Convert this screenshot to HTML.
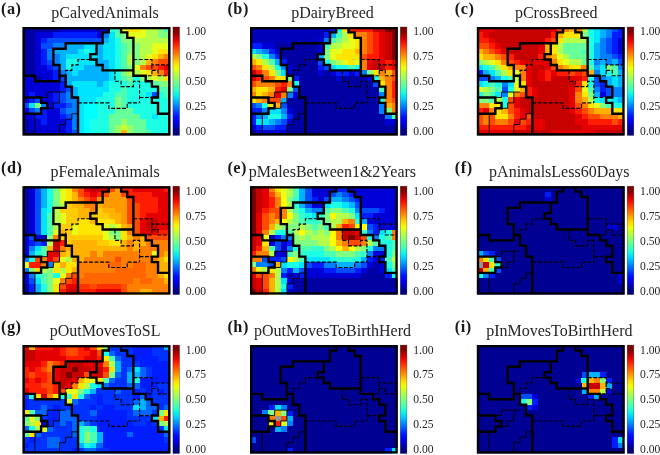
<!DOCTYPE html><html><head><meta charset="utf-8"><title>SOM component planes</title>
<style>html,body{margin:0;padding:0;background:#fff}svg{display:block}text{filter:grayscale(1)}text{font-family:"Liberation Serif","Times New Roman",serif}</style></head><body>
<svg width="660" height="455" viewBox="0 0 660 455">
<defs><linearGradient id="jet" x1="0" y1="0" x2="0" y2="1"><stop offset="0" stop-color="#800000"/><stop offset="0.04" stop-color="#800000"/><stop offset="0.08" stop-color="#b20000"/><stop offset="0.12" stop-color="#e80000"/><stop offset="0.17" stop-color="#ff2900"/><stop offset="0.21" stop-color="#ff5500"/><stop offset="0.25" stop-color="#ff7e00"/><stop offset="0.29" stop-color="#ffab00"/><stop offset="0.33" stop-color="#ffd700"/><stop offset="0.38" stop-color="#eeff09"/><stop offset="0.42" stop-color="#c7ff30"/><stop offset="0.46" stop-color="#a4ff53"/><stop offset="0.5" stop-color="#7dff7a"/><stop offset="0.54" stop-color="#5aff9d"/><stop offset="0.58" stop-color="#33ffc4"/><stop offset="0.62" stop-color="#0cf4eb"/><stop offset="0.67" stop-color="#00c8ff"/><stop offset="0.71" stop-color="#0098ff"/><stop offset="0.75" stop-color="#006cff"/><stop offset="0.79" stop-color="#003cff"/><stop offset="0.83" stop-color="#0010ff"/><stop offset="0.88" stop-color="#0000ed"/><stop offset="0.92" stop-color="#0000b6"/><stop offset="0.96" stop-color="#000084"/><stop offset="1" stop-color="#000080"/></linearGradient><filter id="bl" x="-2%" y="-2%" width="104%" height="104%"><feGaussianBlur stdDeviation="0.45"/></filter><clipPath id="cp"><rect x="0" y="0" width="147.7" height="108.4"/></clipPath></defs>
<rect width="660" height="455" fill="#fff"/>
<g transform="translate(22.63,27)">
<g clip-path="url(#cp)"><g filter="url(#bl)" shape-rendering="crispEdges"><rect x="-1" y="-1" width="149.7" height="110.4" fill="#000"/>
<path fill="#0000a3" d="M-0.05 -0.05h37.02v5.52h-37.02zM73.8 -0.05h6.25v5.52h-6.25zM-0.05 5.37h12.41v5.52h-12.41zM-0.05 10.79h12.41v5.52h-12.41zM-0.05 16.21h12.41v5.52h-12.41zM-0.05 21.63h12.41v5.52h-12.41zM-0.05 27.05h12.41v5.52h-12.41zM-0.05 32.47h12.41v5.52h-12.41zM-0.05 37.89h12.41v5.52h-12.41zM-0.05 43.31h12.41v5.52h-12.41zM12.26 48.73h6.25v5.52h-6.25zM-0.05 92.09h6.25v5.52h-6.25zM-0.05 97.51h6.25v5.52h-6.25zM-0.05 102.93h12.41v5.52h-12.41z"/>
<path fill="#0000d6" d="M36.88 -0.05h37.02v5.52h-37.02zM79.95 -0.05h6.25v5.52h-6.25zM12.26 5.37h18.56v5.52h-18.56zM73.8 5.37h6.25v5.52h-6.25zM12.26 10.79h6.25v5.52h-6.25zM12.26 16.21h6.25v5.52h-6.25zM12.26 21.63h6.25v5.52h-6.25zM12.26 27.05h6.25v5.52h-6.25zM12.26 32.47h6.25v5.52h-6.25zM12.26 37.89h12.41v5.52h-12.41zM12.26 43.31h18.56v5.52h-18.56zM-0.05 48.73h12.41v5.52h-12.41zM18.41 48.73h12.41v5.52h-12.41zM-0.05 54.15h37.02v5.52h-37.02zM-0.05 59.57h37.02v5.52h-37.02zM-0.05 64.99h6.25v5.52h-6.25zM12.26 64.99h18.56v5.52h-18.56zM-0.05 70.41h6.25v5.52h-6.25zM18.41 70.41h12.41v5.52h-12.41zM24.57 75.83h6.25v5.52h-6.25zM-0.05 81.25h6.25v5.52h-6.25zM24.57 81.25h12.41v5.52h-12.41zM-0.05 86.67h12.41v5.52h-12.41zM24.57 86.67h12.41v5.52h-12.41zM6.1 92.09h12.41v5.52h-12.41zM24.57 92.09h18.56v5.52h-18.56zM6.1 97.51h37.02v5.52h-37.02zM12.26 102.93h30.87v5.52h-30.87z"/>
<path fill="#001aff" d="M30.72 5.37h43.18v5.52h-43.18zM18.41 10.79h6.25v5.52h-6.25zM18.41 21.63h6.25v5.52h-6.25zM18.41 27.05h6.25v5.52h-6.25zM18.41 32.47h6.25v5.52h-6.25zM24.57 37.89h6.25v5.52h-6.25zM30.72 43.31h6.25v5.52h-6.25zM30.72 48.73h6.25v5.52h-6.25zM36.88 54.15h6.25v5.52h-6.25zM36.88 59.57h6.25v5.52h-6.25zM6.1 64.99h6.25v5.52h-6.25zM30.72 64.99h6.25v5.52h-6.25zM6.1 70.41h6.25v5.52h-6.25zM30.72 70.41h6.25v5.52h-6.25zM30.72 75.83h12.41v5.52h-12.41zM18.41 81.25h6.25v5.52h-6.25zM12.26 86.67h12.41v5.52h-12.41zM36.88 86.67h6.25v5.52h-6.25zM18.41 92.09h6.25v5.52h-6.25zM43.03 92.09h6.25v5.52h-6.25zM43.03 97.51h6.25v5.52h-6.25zM43.03 102.93h6.25v5.52h-6.25z"/>
<path fill="#004dff" d="M24.57 10.79h55.49v5.52h-55.49zM18.41 16.21h12.41v5.52h-12.41zM24.57 32.47h6.25v5.52h-6.25zM30.72 37.89h6.25v5.52h-6.25zM36.88 48.73h6.25v5.52h-6.25zM43.03 59.57h6.25v5.52h-6.25zM36.88 64.99h6.25v5.52h-6.25zM129.19 64.99h6.25v5.52h-6.25zM12.26 70.41h6.25v5.52h-6.25zM36.88 70.41h6.25v5.52h-6.25zM-0.05 75.83h6.25v5.52h-6.25zM43.03 75.83h6.25v5.52h-6.25zM6.1 81.25h6.25v5.52h-6.25zM36.88 81.25h6.25v5.52h-6.25zM43.03 86.67h6.25v5.52h-6.25zM49.18 102.93h6.25v5.52h-6.25z"/>
<path fill="#0080ff" d="M79.95 5.37h6.25v5.52h-6.25zM30.72 16.21h12.41v5.52h-12.41zM24.57 21.63h6.25v5.52h-6.25zM24.57 27.05h12.41v5.52h-12.41zM30.72 32.47h6.25v5.52h-6.25zM36.88 43.31h6.25v5.52h-6.25zM43.03 64.99h6.25v5.52h-6.25zM43.03 70.41h12.41v5.52h-12.41zM18.41 75.83h6.25v5.52h-6.25zM49.18 75.83h6.25v5.52h-6.25zM12.26 81.25h6.25v5.52h-6.25zM43.03 81.25h12.41v5.52h-12.41zM49.18 86.67h6.25v5.52h-6.25zM49.18 92.09h6.25v5.52h-6.25zM49.18 97.51h6.25v5.52h-6.25z"/>
<path fill="#00b2ff" d="M79.95 10.79h6.25v5.52h-6.25zM43.03 16.21h18.56v5.52h-18.56zM73.8 16.21h6.25v5.52h-6.25zM30.72 21.63h24.72v5.52h-24.72zM73.8 21.63h6.25v5.52h-6.25zM36.88 27.05h6.25v5.52h-6.25zM73.8 27.05h6.25v5.52h-6.25zM36.88 32.47h6.25v5.52h-6.25zM73.8 32.47h12.41v5.52h-12.41zM36.88 37.89h6.25v5.52h-6.25zM61.49 37.89h24.72v5.52h-24.72zM43.03 43.31h6.25v5.52h-6.25zM55.34 43.31h30.87v5.52h-30.87zM43.03 48.73h43.18v5.52h-43.18zM43.03 54.15h6.25v5.52h-6.25zM73.8 54.15h6.25v5.52h-6.25zM49.18 59.57h6.25v5.52h-6.25zM49.18 64.99h6.25v5.52h-6.25z"/>
<path fill="#00e5ff" d="M86.11 5.37h6.25v5.52h-6.25zM86.11 10.79h6.25v5.52h-6.25zM61.49 16.21h12.41v5.52h-12.41zM79.95 16.21h12.41v5.52h-12.41zM55.34 21.63h6.25v5.52h-6.25zM67.65 21.63h6.25v5.52h-6.25zM79.95 21.63h12.41v5.52h-12.41zM43.03 27.05h30.87v5.52h-30.87zM79.95 27.05h12.41v5.52h-12.41zM55.34 32.47h18.56v5.52h-18.56zM86.11 32.47h6.25v5.52h-6.25zM49.18 37.89h12.41v5.52h-12.41zM86.11 37.89h6.25v5.52h-6.25zM49.18 43.31h6.25v5.52h-6.25zM86.11 43.31h6.25v5.52h-6.25zM86.11 48.73h6.25v5.52h-6.25zM49.18 54.15h24.72v5.52h-24.72zM79.95 54.15h6.25v5.52h-6.25zM55.34 59.57h30.87v5.52h-30.87zM55.34 64.99h24.72v5.52h-24.72zM123.03 64.99h6.25v5.52h-6.25zM55.34 70.41h18.56v5.52h-18.56zM6.1 75.83h6.25v5.52h-6.25zM55.34 75.83h6.25v5.52h-6.25zM55.34 81.25h6.25v5.52h-6.25zM55.34 86.67h6.25v5.52h-6.25zM129.19 86.67h6.25v5.52h-6.25zM55.34 92.09h6.25v5.52h-6.25zM55.34 97.51h6.25v5.52h-6.25zM55.34 102.93h6.25v5.52h-6.25z"/>
<path fill="#1affe5" d="M86.11 -0.05h6.25v5.52h-6.25zM92.26 10.79h6.25v5.52h-6.25zM92.26 16.21h6.25v5.52h-6.25zM61.49 21.63h6.25v5.52h-6.25zM92.26 21.63h6.25v5.52h-6.25zM92.26 27.05h6.25v5.52h-6.25zM43.03 32.47h12.41v5.52h-12.41zM92.26 32.47h6.25v5.52h-6.25zM43.03 37.89h6.25v5.52h-6.25zM92.26 37.89h6.25v5.52h-6.25zM92.26 43.31h6.25v5.52h-6.25zM92.26 48.73h6.25v5.52h-6.25zM110.72 48.73h6.25v5.52h-6.25zM86.11 54.15h18.56v5.52h-18.56zM110.72 54.15h18.56v5.52h-18.56zM86.11 59.57h12.41v5.52h-12.41zM104.57 59.57h30.87v5.52h-30.87zM79.95 64.99h12.41v5.52h-12.41zM104.57 64.99h18.56v5.52h-18.56zM135.34 64.99h6.25v5.52h-6.25zM73.8 70.41h18.56v5.52h-18.56zM104.57 70.41h43.18v5.52h-43.18zM73.8 75.83h18.56v5.52h-18.56zM104.57 75.83h43.18v5.52h-43.18zM73.8 81.25h18.56v5.52h-18.56zM110.72 81.25h37.02v5.52h-37.02zM73.8 86.67h12.41v5.52h-12.41zM116.88 86.67h12.41v5.52h-12.41zM135.34 86.67h12.41v5.52h-12.41zM67.65 92.09h18.56v5.52h-18.56zM123.03 92.09h24.72v5.52h-24.72zM67.65 97.51h18.56v5.52h-18.56zM123.03 97.51h24.72v5.52h-24.72zM67.65 102.93h18.56v5.52h-18.56zM129.19 102.93h18.56v5.52h-18.56z"/>
<path fill="#4dffb2" d="M92.26 -0.05h6.25v5.52h-6.25zM141.5 -0.05h6.25v5.52h-6.25zM92.26 5.37h6.25v5.52h-6.25zM98.42 16.21h6.25v5.52h-6.25zM98.42 21.63h6.25v5.52h-6.25zM98.42 27.05h6.25v5.52h-6.25zM98.42 32.47h6.25v5.52h-6.25zM98.42 37.89h6.25v5.52h-6.25zM98.42 48.73h6.25v5.52h-6.25zM104.57 54.15h6.25v5.52h-6.25zM129.19 54.15h6.25v5.52h-6.25zM98.42 59.57h6.25v5.52h-6.25zM135.34 59.57h12.41v5.52h-12.41zM92.26 64.99h12.41v5.52h-12.41zM141.5 64.99h6.25v5.52h-6.25zM98.42 70.41h6.25v5.52h-6.25zM98.42 75.83h6.25v5.52h-6.25zM123.03 102.93h6.25v5.52h-6.25z"/>
<path fill="#66ff99" d="M92.26 81.25h18.56v5.52h-18.56zM86.11 86.67h30.87v5.52h-30.87zM86.11 92.09h12.41v5.52h-12.41zM104.57 92.09h18.56v5.52h-18.56zM86.11 97.51h6.25v5.52h-6.25zM110.72 97.51h12.41v5.52h-12.41zM86.11 102.93h6.25v5.52h-6.25zM110.72 102.93h12.41v5.52h-12.41z"/>
<path fill="#99ff66" d="M98.42 92.09h6.25v5.52h-6.25zM92.26 97.51h6.25v5.52h-6.25zM104.57 97.51h6.25v5.52h-6.25zM92.26 102.93h6.25v5.52h-6.25zM104.57 102.93h6.25v5.52h-6.25z"/>
<path fill="#ccff33" d="M98.42 97.51h6.25v5.52h-6.25z"/>
<path fill="#00ffff" d="M61.49 75.83h12.41v5.52h-12.41zM61.49 81.25h12.41v5.52h-12.41zM61.49 86.67h12.41v5.52h-12.41zM61.49 92.09h6.25v5.52h-6.25zM61.49 97.51h6.25v5.52h-6.25zM61.49 102.93h6.25v5.52h-6.25z"/>
<path fill="#80ff80" d="M135.34 -0.05h6.25v5.52h-6.25zM98.42 5.37h6.25v5.52h-6.25zM135.34 5.37h12.41v5.52h-12.41zM98.42 10.79h12.41v5.52h-12.41zM104.57 16.21h12.41v5.52h-12.41zM104.57 21.63h12.41v5.52h-12.41zM110.72 27.05h6.25v5.52h-6.25zM110.72 32.47h6.25v5.52h-6.25zM104.57 37.89h6.25v5.52h-6.25zM98.42 43.31h6.25v5.52h-6.25zM104.57 48.73h6.25v5.52h-6.25zM116.88 48.73h6.25v5.52h-6.25zM135.34 54.15h12.41v5.52h-12.41zM92.26 70.41h6.25v5.52h-6.25zM12.26 75.83h6.25v5.52h-6.25zM92.26 75.83h6.25v5.52h-6.25z"/>
<path fill="#b3ff4c" d="M123.03 -0.05h12.41v5.52h-12.41zM123.03 5.37h12.41v5.52h-12.41zM110.72 10.79h37.02v5.52h-37.02zM116.88 16.21h12.41v5.52h-12.41zM116.88 21.63h12.41v5.52h-12.41zM104.57 27.05h6.25v5.52h-6.25zM116.88 27.05h6.25v5.52h-6.25zM104.57 32.47h6.25v5.52h-6.25zM116.88 32.47h6.25v5.52h-6.25zM104.57 43.31h12.41v5.52h-12.41zM123.03 48.73h6.25v5.52h-6.25zM135.34 48.73h6.25v5.52h-6.25z"/>
<path fill="#e5ff1a" d="M98.42 -0.05h6.25v5.52h-6.25zM116.88 -0.05h6.25v5.52h-6.25zM104.57 5.37h18.56v5.52h-18.56zM129.19 16.21h18.56v5.52h-18.56zM129.19 21.63h6.25v5.52h-6.25zM123.03 27.05h6.25v5.52h-6.25zM110.72 37.89h6.25v5.52h-6.25zM116.88 43.31h6.25v5.52h-6.25zM129.19 48.73h6.25v5.52h-6.25z"/>
<path fill="#ffe500" d="M104.57 -0.05h12.41v5.52h-12.41zM135.34 21.63h12.41v5.52h-12.41zM129.19 27.05h6.25v5.52h-6.25zM123.03 43.31h6.25v5.52h-6.25zM141.5 48.73h6.25v5.52h-6.25z"/>
<path fill="#ffb300" d="M135.34 27.05h6.25v5.52h-6.25zM123.03 32.47h6.25v5.52h-6.25zM129.19 43.31h6.25v5.52h-6.25zM98.42 102.93h6.25v5.52h-6.25z"/>
<path fill="#ff8000" d="M141.5 27.05h6.25v5.52h-6.25zM129.19 32.47h6.25v5.52h-6.25zM116.88 37.89h6.25v5.52h-6.25zM135.34 43.31h6.25v5.52h-6.25z"/>
<path fill="#ff4c00" d="M135.34 32.47h12.41v5.52h-12.41zM123.03 37.89h12.41v5.52h-12.41z"/>
<path fill="#ff1a00" d="M135.34 37.89h6.25v5.52h-6.25zM141.5 43.31h6.25v5.52h-6.25z"/>
<path fill="#e50000" d="M141.5 37.89h6.25v5.52h-6.25z"/>
</g></g>
<path d="M67.7 32.52L55.39 32.52L55.39 37.94L49.23 37.94L49.23 43.36L43.08 43.36L43.08 48.78M110.77 32.52L129.24 32.52L129.24 37.94L147 37.94M129.24 37.94L129.24 48.78L123.08 48.78M129.24 43.36L135.39 43.36L135.39 48.78L147 48.78M92.31 43.36L92.31 54.2L98.47 54.2L98.47 59.62L110.77 59.62L110.77 54.2L116.93 54.2L116.93 75.88M116.93 70.46L129.24 70.46M55.39 75.88L86.16 75.88L86.16 81.3L104.62 81.3L104.62 75.88L116.93 75.88" fill="none" stroke="#000" stroke-width="1.15" stroke-dasharray="3.9 1.6"/>
<path d="M18.46 70.46L24.62 70.46L24.62 65.04L43.08 65.04M36.92 65.04L36.92 75.88L30.77 75.88L30.77 81.3L24.62 81.3M12.31 86.72L12.31 107.7M55.39 86.72L49.23 86.72L49.23 92.14L43.08 92.14L43.08 97.56L36.92 97.56L36.92 107.7" fill="none" stroke="#000" stroke-width="0.9"/>
<path d="M0.7 48.78L12.31 48.78L12.31 54.2L36.92 54.2L36.92 37.94L30.77 37.94L30.77 21.68L43.08 21.68L43.08 16.26L80 16.26L80 5.42L86.16 5.42L86.16 0.7M73.85 16.26L73.85 27.1L67.7 27.1L67.7 32.52L73.85 32.52L73.85 37.94L80 37.94L80 43.36L110.77 43.36M98.47 0.7L98.47 5.42L104.62 5.42L104.62 10.84L110.77 10.84L110.77 48.78L123.08 48.78L123.08 54.2L129.24 54.2L129.24 59.62L135.39 59.62L135.39 70.46L129.24 70.46L129.24 75.88L135.39 75.88L135.39 86.72L147 86.72M36.92 48.78L43.08 48.78L43.08 59.62L49.23 59.62L49.23 70.46L55.39 70.46L55.39 107.7M0.7 70.46L18.46 70.46L18.46 75.88L24.62 75.88L24.62 81.3L18.46 81.3L18.46 86.72L0.7 86.72" fill="none" stroke="#000" stroke-width="2.4" stroke-linejoin="miter" stroke-linecap="butt"/>
<rect x="1.15" y="1.15" width="145.4" height="106.1" fill="none" stroke="#000" stroke-width="2.3"/>
<rect x="150.3" y="0" width="6.6" height="108.4" fill="url(#jet)" stroke="#000" stroke-opacity="0.55" stroke-width="0.5"/>
<text x="163.2" y="8.4" font-size="11.6" fill="#262626">1.00</text>
<text x="163.2" y="33.4" font-size="11.6" fill="#262626">0.75</text>
<text x="163.2" y="58.4" font-size="11.6" fill="#262626">0.50</text>
<text x="163.2" y="83.4" font-size="11.6" fill="#262626">0.25</text>
<text x="163.2" y="108.4" font-size="11.6" fill="#262626">0.00</text>
<text x="82.45" y="-9" font-size="16" fill="#262626" text-anchor="middle">pCalvedAnimals</text>
<text x="-21.63" y="-13.4" font-size="16.3" letter-spacing="0.5" font-weight="bold" fill="#1a1a1a">(a)</text>
</g>
<g transform="translate(250,27)">
<g clip-path="url(#cp)"><g filter="url(#bl)" shape-rendering="crispEdges"><rect x="-1" y="-1" width="149.7" height="110.4" fill="#000"/>
<path fill="#0000a3" d="M73.8 -0.05h6.25v5.52h-6.25zM24.57 16.21h43.18v5.52h-43.18zM30.72 21.63h37.02v5.52h-37.02zM30.72 27.05h37.02v5.52h-37.02zM36.88 32.47h30.87v5.52h-30.87zM43.03 37.89h24.72v5.52h-24.72zM43.03 43.31h24.72v5.52h-24.72zM73.8 43.31h6.25v5.52h-6.25zM49.18 48.73h37.02v5.52h-37.02zM92.26 48.73h24.72v5.52h-24.72zM49.18 54.15h73.95v5.52h-73.95zM49.18 59.57h80.1v5.52h-80.1zM49.18 64.99h80.1v5.52h-80.1zM36.88 70.41h92.41v5.52h-92.41zM36.88 75.83h92.41v5.52h-92.41zM43.03 81.25h86.26v5.52h-86.26zM43.03 86.67h92.41v5.52h-92.41zM43.03 92.09h92.41v5.52h-92.41zM36.88 97.51h110.87v5.52h-110.87zM-0.05 102.93h6.25v5.52h-6.25zM36.88 102.93h110.87v5.52h-110.87z"/>
<path fill="#0000d6" d="M67.65 10.79h6.25v5.52h-6.25zM12.26 16.21h12.41v5.52h-12.41zM67.65 16.21h6.25v5.52h-6.25zM24.57 21.63h6.25v5.52h-6.25zM67.65 21.63h6.25v5.52h-6.25zM36.88 37.89h6.25v5.52h-6.25zM36.88 43.31h6.25v5.52h-6.25zM67.65 43.31h6.25v5.52h-6.25zM79.95 43.31h6.25v5.52h-6.25zM98.42 43.31h6.25v5.52h-6.25zM86.11 48.73h6.25v5.52h-6.25zM116.88 48.73h6.25v5.52h-6.25zM43.03 64.99h6.25v5.52h-6.25zM36.88 81.25h6.25v5.52h-6.25zM36.88 92.09h6.25v5.52h-6.25zM135.34 92.09h12.41v5.52h-12.41zM-0.05 97.51h6.25v5.52h-6.25zM6.1 102.93h30.87v5.52h-30.87z"/>
<path fill="#001aff" d="M79.95 -0.05h6.25v5.52h-6.25zM73.8 5.37h6.25v5.52h-6.25zM-0.05 16.21h12.41v5.52h-12.41zM18.41 21.63h6.25v5.52h-6.25zM24.57 27.05h6.25v5.52h-6.25zM30.72 32.47h6.25v5.52h-6.25zM67.65 37.89h6.25v5.52h-6.25zM86.11 43.31h12.41v5.52h-12.41zM104.57 43.31h6.25v5.52h-6.25zM43.03 48.73h6.25v5.52h-6.25zM-0.05 81.25h12.41v5.52h-12.41zM-0.05 86.67h6.25v5.52h-6.25zM36.88 86.67h6.25v5.52h-6.25zM-0.05 92.09h6.25v5.52h-6.25zM6.1 97.51h6.25v5.52h-6.25zM24.57 97.51h12.41v5.52h-12.41z"/>
<path fill="#004dff" d="M67.65 32.47h6.25v5.52h-6.25zM73.8 37.89h6.25v5.52h-6.25zM123.03 54.15h6.25v5.52h-6.25zM43.03 59.57h6.25v5.52h-6.25zM-0.05 75.83h6.25v5.52h-6.25zM30.72 75.83h6.25v5.52h-6.25zM30.72 92.09h6.25v5.52h-6.25zM12.26 97.51h12.41v5.52h-12.41z"/>
<path fill="#0080ff" d="M73.8 10.79h6.25v5.52h-6.25zM12.26 21.63h6.25v5.52h-6.25zM18.41 27.05h6.25v5.52h-6.25zM30.72 37.89h6.25v5.52h-6.25zM110.72 43.31h6.25v5.52h-6.25zM36.88 64.99h6.25v5.52h-6.25zM129.19 64.99h6.25v5.52h-6.25zM6.1 75.83h6.25v5.52h-6.25zM129.19 75.83h6.25v5.52h-6.25zM12.26 81.25h6.25v5.52h-6.25zM30.72 81.25h6.25v5.52h-6.25zM129.19 81.25h6.25v5.52h-6.25zM6.1 86.67h6.25v5.52h-6.25zM135.34 86.67h6.25v5.52h-6.25zM24.57 92.09h6.25v5.52h-6.25z"/>
<path fill="#00b2ff" d="M79.95 5.37h6.25v5.52h-6.25zM6.1 21.63h6.25v5.52h-6.25zM67.65 27.05h6.25v5.52h-6.25zM24.57 32.47h6.25v5.52h-6.25zM30.72 70.41h6.25v5.52h-6.25zM12.26 86.67h6.25v5.52h-6.25zM30.72 86.67h6.25v5.52h-6.25zM18.41 92.09h6.25v5.52h-6.25z"/>
<path fill="#00e5ff" d="M-0.05 21.63h6.25v5.52h-6.25zM79.95 37.89h6.25v5.52h-6.25zM30.72 43.31h6.25v5.52h-6.25zM18.41 81.25h12.41v5.52h-12.41zM6.1 92.09h12.41v5.52h-12.41z"/>
<path fill="#1affe5" d="M86.11 -0.05h6.25v5.52h-6.25zM12.26 27.05h6.25v5.52h-6.25zM73.8 32.47h6.25v5.52h-6.25zM24.57 37.89h6.25v5.52h-6.25zM86.11 37.89h12.41v5.52h-12.41zM104.57 37.89h6.25v5.52h-6.25zM123.03 48.73h6.25v5.52h-6.25zM43.03 54.15h6.25v5.52h-6.25zM129.19 70.41h6.25v5.52h-6.25zM12.26 75.83h6.25v5.52h-6.25zM18.41 86.67h12.41v5.52h-12.41z"/>
<path fill="#4dffb2" d="M86.11 5.37h6.25v5.52h-6.25zM79.95 10.79h6.25v5.52h-6.25zM73.8 16.21h6.25v5.52h-6.25zM18.41 32.47h6.25v5.52h-6.25zM98.42 37.89h6.25v5.52h-6.25zM129.19 59.57h6.25v5.52h-6.25zM141.5 86.67h6.25v5.52h-6.25z"/>
<path fill="#80ff80" d="M86.11 10.79h6.25v5.52h-6.25zM73.8 21.63h6.25v5.52h-6.25zM6.1 27.05h6.25v5.52h-6.25zM73.8 27.05h6.25v5.52h-6.25zM79.95 32.47h6.25v5.52h-6.25zM24.57 43.31h6.25v5.52h-6.25zM116.88 43.31h6.25v5.52h-6.25zM36.88 48.73h6.25v5.52h-6.25zM36.88 59.57h6.25v5.52h-6.25zM135.34 81.25h6.25v5.52h-6.25z"/>
<path fill="#b3ff4c" d="M92.26 5.37h6.25v5.52h-6.25zM92.26 10.79h6.25v5.52h-6.25zM79.95 16.21h12.41v5.52h-12.41zM-0.05 27.05h6.25v5.52h-6.25zM12.26 32.47h6.25v5.52h-6.25zM86.11 32.47h6.25v5.52h-6.25zM18.41 37.89h6.25v5.52h-6.25z"/>
<path fill="#e5ff1a" d="M98.42 10.79h6.25v5.52h-6.25zM92.26 16.21h12.41v5.52h-12.41zM79.95 21.63h12.41v5.52h-12.41zM79.95 27.05h6.25v5.52h-6.25zM92.26 32.47h6.25v5.52h-6.25zM104.57 32.47h6.25v5.52h-6.25z"/>
<path fill="#ffe500" d="M92.26 -0.05h6.25v5.52h-6.25zM98.42 5.37h6.25v5.52h-6.25zM104.57 10.79h6.25v5.52h-6.25zM104.57 16.21h6.25v5.52h-6.25zM92.26 21.63h12.41v5.52h-12.41zM86.11 27.05h24.72v5.52h-24.72zM6.1 32.47h6.25v5.52h-6.25zM98.42 32.47h6.25v5.52h-6.25zM12.26 37.89h6.25v5.52h-6.25zM18.41 43.31h6.25v5.52h-6.25zM123.03 43.31h6.25v5.52h-6.25zM24.57 48.73h12.41v5.52h-12.41zM129.19 54.15h6.25v5.52h-6.25zM6.1 59.57h12.41v5.52h-12.41zM6.1 64.99h6.25v5.52h-6.25zM-0.05 70.41h6.25v5.52h-6.25zM18.41 75.83h6.25v5.52h-6.25z"/>
<path fill="#ffb300" d="M104.57 21.63h6.25v5.52h-6.25zM-0.05 32.47h6.25v5.52h-6.25zM135.34 43.31h6.25v5.52h-6.25zM129.19 48.73h6.25v5.52h-6.25zM-0.05 59.57h6.25v5.52h-6.25zM18.41 59.57h6.25v5.52h-6.25zM12.26 64.99h6.25v5.52h-6.25zM6.1 70.41h6.25v5.52h-6.25zM24.57 75.83h6.25v5.52h-6.25zM135.34 75.83h6.25v5.52h-6.25z"/>
<path fill="#ff8000" d="M104.57 5.37h12.41v5.52h-12.41zM110.72 10.79h6.25v5.52h-6.25zM110.72 16.21h6.25v5.52h-6.25zM110.72 21.63h6.25v5.52h-6.25zM110.72 32.47h6.25v5.52h-6.25zM6.1 37.89h6.25v5.52h-6.25zM110.72 37.89h6.25v5.52h-6.25zM12.26 43.31h6.25v5.52h-6.25zM129.19 43.31h6.25v5.52h-6.25zM18.41 48.73h6.25v5.52h-6.25zM135.34 48.73h6.25v5.52h-6.25zM6.1 54.15h18.56v5.52h-18.56zM36.88 54.15h6.25v5.52h-6.25zM135.34 54.15h6.25v5.52h-6.25zM135.34 59.57h6.25v5.52h-6.25zM-0.05 64.99h6.25v5.52h-6.25zM18.41 64.99h6.25v5.52h-6.25zM30.72 64.99h6.25v5.52h-6.25zM135.34 64.99h6.25v5.52h-6.25zM12.26 70.41h6.25v5.52h-6.25zM135.34 70.41h6.25v5.52h-6.25zM141.5 75.83h6.25v5.52h-6.25zM141.5 81.25h6.25v5.52h-6.25z"/>
<path fill="#ff4c00" d="M116.88 5.37h6.25v5.52h-6.25zM116.88 10.79h6.25v5.52h-6.25zM116.88 16.21h6.25v5.52h-6.25zM116.88 21.63h6.25v5.52h-6.25zM110.72 27.05h6.25v5.52h-6.25zM-0.05 37.89h6.25v5.52h-6.25zM141.5 43.31h6.25v5.52h-6.25zM12.26 48.73h6.25v5.52h-6.25zM141.5 48.73h6.25v5.52h-6.25zM-0.05 54.15h6.25v5.52h-6.25zM24.57 54.15h6.25v5.52h-6.25zM18.41 70.41h12.41v5.52h-12.41zM141.5 70.41h6.25v5.52h-6.25z"/>
<path fill="#ff1a00" d="M98.42 -0.05h24.72v5.52h-24.72zM123.03 5.37h6.25v5.52h-6.25zM123.03 10.79h6.25v5.52h-6.25zM123.03 16.21h6.25v5.52h-6.25zM123.03 21.63h6.25v5.52h-6.25zM116.88 27.05h12.41v5.52h-12.41zM135.34 32.47h6.25v5.52h-6.25zM135.34 37.89h6.25v5.52h-6.25zM6.1 43.31h6.25v5.52h-6.25zM6.1 48.73h6.25v5.52h-6.25zM30.72 54.15h6.25v5.52h-6.25zM141.5 54.15h6.25v5.52h-6.25zM24.57 59.57h6.25v5.52h-6.25zM141.5 59.57h6.25v5.52h-6.25zM141.5 64.99h6.25v5.52h-6.25z"/>
<path fill="#e50000" d="M129.19 5.37h6.25v5.52h-6.25zM129.19 10.79h6.25v5.52h-6.25zM129.19 16.21h6.25v5.52h-6.25zM129.19 21.63h6.25v5.52h-6.25zM129.19 27.05h6.25v5.52h-6.25zM116.88 32.47h6.25v5.52h-6.25zM129.19 32.47h6.25v5.52h-6.25zM141.5 32.47h6.25v5.52h-6.25zM116.88 37.89h6.25v5.52h-6.25zM141.5 37.89h6.25v5.52h-6.25zM-0.05 48.73h6.25v5.52h-6.25zM30.72 59.57h6.25v5.52h-6.25zM24.57 64.99h6.25v5.52h-6.25z"/>
<path fill="#c70000" d="M123.03 -0.05h12.41v5.52h-12.41zM135.34 5.37h6.25v5.52h-6.25zM135.34 10.79h6.25v5.52h-6.25zM135.34 16.21h6.25v5.52h-6.25zM135.34 21.63h6.25v5.52h-6.25zM135.34 27.05h6.25v5.52h-6.25zM123.03 32.47h6.25v5.52h-6.25zM123.03 37.89h12.41v5.52h-12.41zM-0.05 43.31h6.25v5.52h-6.25z"/>
<path fill="#800000" d="M135.34 -0.05h12.41v5.52h-12.41zM141.5 5.37h6.25v5.52h-6.25zM141.5 10.79h6.25v5.52h-6.25zM141.5 16.21h6.25v5.52h-6.25zM141.5 21.63h6.25v5.52h-6.25zM141.5 27.05h6.25v5.52h-6.25z"/>
<path fill="#0000b8" d="M-0.05 -0.05h73.95v5.52h-73.95zM-0.05 5.37h73.95v5.52h-73.95zM-0.05 10.79h67.8v5.52h-67.8z"/>
</g></g>
<path d="M67.7 32.52L55.39 32.52L55.39 37.94L49.23 37.94L49.23 43.36L43.08 43.36L43.08 48.78M110.77 32.52L129.24 32.52L129.24 37.94L147 37.94M129.24 37.94L129.24 48.78L123.08 48.78M129.24 43.36L135.39 43.36L135.39 48.78L147 48.78M92.31 43.36L92.31 54.2L98.47 54.2L98.47 59.62L110.77 59.62L110.77 54.2L116.93 54.2L116.93 75.88M116.93 70.46L129.24 70.46M55.39 75.88L86.16 75.88L86.16 81.3L104.62 81.3L104.62 75.88L116.93 75.88" fill="none" stroke="#000" stroke-width="1.15" stroke-dasharray="3.9 1.6"/>
<path d="M18.46 70.46L24.62 70.46L24.62 65.04L43.08 65.04M36.92 65.04L36.92 75.88L30.77 75.88L30.77 81.3L24.62 81.3M12.31 86.72L12.31 107.7M55.39 86.72L49.23 86.72L49.23 92.14L43.08 92.14L43.08 97.56L36.92 97.56L36.92 107.7" fill="none" stroke="#000" stroke-width="0.9"/>
<path d="M0.7 48.78L12.31 48.78L12.31 54.2L36.92 54.2L36.92 37.94L30.77 37.94L30.77 21.68L43.08 21.68L43.08 16.26L80 16.26L80 5.42L86.16 5.42L86.16 0.7M73.85 16.26L73.85 27.1L67.7 27.1L67.7 32.52L73.85 32.52L73.85 37.94L80 37.94L80 43.36L110.77 43.36M98.47 0.7L98.47 5.42L104.62 5.42L104.62 10.84L110.77 10.84L110.77 48.78L123.08 48.78L123.08 54.2L129.24 54.2L129.24 59.62L135.39 59.62L135.39 70.46L129.24 70.46L129.24 75.88L135.39 75.88L135.39 86.72L147 86.72M36.92 48.78L43.08 48.78L43.08 59.62L49.23 59.62L49.23 70.46L55.39 70.46L55.39 107.7M0.7 70.46L18.46 70.46L18.46 75.88L24.62 75.88L24.62 81.3L18.46 81.3L18.46 86.72L0.7 86.72" fill="none" stroke="#000" stroke-width="2.4" stroke-linejoin="miter" stroke-linecap="butt"/>
<rect x="1.15" y="1.15" width="145.4" height="106.1" fill="none" stroke="#000" stroke-width="2.3"/>
<rect x="150.3" y="0" width="6.6" height="108.4" fill="url(#jet)" stroke="#000" stroke-opacity="0.55" stroke-width="0.5"/>
<text x="163.2" y="8.4" font-size="11.6" fill="#262626">1.00</text>
<text x="163.2" y="33.4" font-size="11.6" fill="#262626">0.75</text>
<text x="163.2" y="58.4" font-size="11.6" fill="#262626">0.50</text>
<text x="163.2" y="83.4" font-size="11.6" fill="#262626">0.25</text>
<text x="163.2" y="108.4" font-size="11.6" fill="#262626">0.00</text>
<text x="82.45" y="-9" font-size="16" fill="#262626" text-anchor="middle">pDairyBreed</text>
<text x="-22.6" y="-13.4" font-size="16.3" letter-spacing="0.5" font-weight="bold" fill="#1a1a1a">(b)</text>
</g>
<g transform="translate(476.9,27)">
<g clip-path="url(#cp)"><g filter="url(#bl)" shape-rendering="crispEdges"><rect x="-1" y="-1" width="149.7" height="110.4" fill="#000"/>
<path fill="#0000d6" d="M141.5 10.79h6.25v5.52h-6.25zM141.5 16.21h6.25v5.52h-6.25zM141.5 21.63h6.25v5.52h-6.25zM123.03 64.99h6.25v5.52h-6.25z"/>
<path fill="#001aff" d="M141.5 -0.05h6.25v5.52h-6.25zM135.34 5.37h12.41v5.52h-12.41zM135.34 10.79h6.25v5.52h-6.25zM135.34 16.21h6.25v5.52h-6.25zM135.34 21.63h6.25v5.52h-6.25zM141.5 27.05h6.25v5.52h-6.25zM-0.05 43.31h6.25v5.52h-6.25zM123.03 54.15h6.25v5.52h-6.25zM123.03 59.57h6.25v5.52h-6.25z"/>
<path fill="#004dff" d="M135.34 -0.05h6.25v5.52h-6.25zM129.19 10.79h6.25v5.52h-6.25zM129.19 16.21h6.25v5.52h-6.25zM129.19 21.63h6.25v5.52h-6.25zM135.34 27.05h6.25v5.52h-6.25zM141.5 32.47h6.25v5.52h-6.25zM-0.05 48.73h12.41v5.52h-12.41zM116.88 48.73h6.25v5.52h-6.25zM116.88 54.15h6.25v5.52h-6.25zM24.57 59.57h6.25v5.52h-6.25zM129.19 59.57h6.25v5.52h-6.25zM129.19 64.99h6.25v5.52h-6.25z"/>
<path fill="#0080ff" d="M129.19 -0.05h6.25v5.52h-6.25zM129.19 5.37h6.25v5.52h-6.25zM123.03 10.79h6.25v5.52h-6.25zM123.03 16.21h6.25v5.52h-6.25zM123.03 21.63h6.25v5.52h-6.25zM123.03 27.05h12.41v5.52h-12.41zM116.88 32.47h6.25v5.52h-6.25zM129.19 32.47h6.25v5.52h-6.25zM141.5 37.89h6.25v5.52h-6.25zM116.88 43.31h6.25v5.52h-6.25zM12.26 48.73h6.25v5.52h-6.25zM123.03 48.73h6.25v5.52h-6.25zM24.57 54.15h6.25v5.52h-6.25zM116.88 59.57h6.25v5.52h-6.25zM135.34 59.57h12.41v5.52h-12.41zM24.57 64.99h6.25v5.52h-6.25zM135.34 64.99h12.41v5.52h-12.41z"/>
<path fill="#00b2ff" d="M123.03 -0.05h6.25v5.52h-6.25zM123.03 5.37h6.25v5.52h-6.25zM116.88 16.21h6.25v5.52h-6.25zM116.88 21.63h6.25v5.52h-6.25zM116.88 27.05h6.25v5.52h-6.25zM123.03 32.47h6.25v5.52h-6.25zM135.34 32.47h6.25v5.52h-6.25zM116.88 37.89h6.25v5.52h-6.25zM6.1 43.31h6.25v5.52h-6.25zM141.5 43.31h6.25v5.52h-6.25zM18.41 48.73h6.25v5.52h-6.25zM129.19 48.73h6.25v5.52h-6.25zM141.5 48.73h6.25v5.52h-6.25zM129.19 54.15h6.25v5.52h-6.25zM141.5 54.15h6.25v5.52h-6.25zM116.88 64.99h6.25v5.52h-6.25zM141.5 70.41h6.25v5.52h-6.25z"/>
<path fill="#00e5ff" d="M116.88 -0.05h6.25v5.52h-6.25zM116.88 5.37h6.25v5.52h-6.25zM116.88 10.79h6.25v5.52h-6.25zM-0.05 37.89h6.25v5.52h-6.25zM123.03 37.89h6.25v5.52h-6.25zM12.26 43.31h6.25v5.52h-6.25zM123.03 43.31h6.25v5.52h-6.25zM135.34 48.73h6.25v5.52h-6.25zM-0.05 54.15h6.25v5.52h-6.25zM30.72 54.15h6.25v5.52h-6.25zM135.34 54.15h6.25v5.52h-6.25zM18.41 64.99h6.25v5.52h-6.25zM123.03 70.41h6.25v5.52h-6.25zM135.34 70.41h6.25v5.52h-6.25z"/>
<path fill="#1affe5" d="M110.72 -0.05h6.25v5.52h-6.25zM110.72 5.37h6.25v5.52h-6.25zM110.72 10.79h6.25v5.52h-6.25zM110.72 16.21h6.25v5.52h-6.25zM110.72 21.63h6.25v5.52h-6.25zM110.72 27.05h6.25v5.52h-6.25zM110.72 32.47h6.25v5.52h-6.25zM6.1 37.89h6.25v5.52h-6.25zM129.19 43.31h6.25v5.52h-6.25zM24.57 48.73h6.25v5.52h-6.25zM110.72 48.73h6.25v5.52h-6.25zM6.1 54.15h6.25v5.52h-6.25zM18.41 54.15h6.25v5.52h-6.25zM110.72 54.15h6.25v5.52h-6.25zM30.72 59.57h6.25v5.52h-6.25zM-0.05 64.99h6.25v5.52h-6.25zM24.57 70.41h6.25v5.52h-6.25zM116.88 70.41h6.25v5.52h-6.25zM129.19 70.41h6.25v5.52h-6.25zM24.57 75.83h6.25v5.52h-6.25zM135.34 75.83h12.41v5.52h-12.41z"/>
<path fill="#4dffb2" d="M104.57 21.63h6.25v5.52h-6.25zM12.26 37.89h6.25v5.52h-6.25zM110.72 37.89h6.25v5.52h-6.25zM135.34 37.89h6.25v5.52h-6.25zM18.41 43.31h6.25v5.52h-6.25zM135.34 43.31h6.25v5.52h-6.25zM30.72 48.73h6.25v5.52h-6.25zM12.26 54.15h6.25v5.52h-6.25zM18.41 59.57h6.25v5.52h-6.25zM110.72 59.57h6.25v5.52h-6.25zM12.26 64.99h6.25v5.52h-6.25zM12.26 70.41h6.25v5.52h-6.25zM129.19 75.83h6.25v5.52h-6.25z"/>
<path fill="#66ff99" d="M86.11 16.21h24.72v5.52h-24.72zM86.11 21.63h18.56v5.52h-18.56zM92.26 27.05h18.56v5.52h-18.56zM104.57 32.47h6.25v5.52h-6.25z"/>
<path fill="#80ff80" d="M104.57 5.37h6.25v5.52h-6.25zM-0.05 32.47h6.25v5.52h-6.25zM129.19 37.89h6.25v5.52h-6.25zM12.26 59.57h6.25v5.52h-6.25zM6.1 64.99h6.25v5.52h-6.25zM110.72 64.99h6.25v5.52h-6.25zM-0.05 70.41h12.41v5.52h-12.41zM123.03 75.83h6.25v5.52h-6.25z"/>
<path fill="#b3ff4c" d="M104.57 -0.05h6.25v5.52h-6.25zM86.11 10.79h24.72v5.52h-24.72zM79.95 16.21h6.25v5.52h-6.25zM79.95 21.63h6.25v5.52h-6.25zM86.11 27.05h6.25v5.52h-6.25zM6.1 32.47h6.25v5.52h-6.25zM92.26 32.47h12.41v5.52h-12.41zM18.41 37.89h6.25v5.52h-6.25zM24.57 43.31h6.25v5.52h-6.25zM36.88 48.73h6.25v5.52h-6.25zM6.1 59.57h6.25v5.52h-6.25zM18.41 70.41h6.25v5.52h-6.25zM110.72 70.41h6.25v5.52h-6.25z"/>
<path fill="#e5ff1a" d="M79.95 27.05h6.25v5.52h-6.25zM12.26 32.47h6.25v5.52h-6.25zM86.11 32.47h6.25v5.52h-6.25zM36.88 43.31h6.25v5.52h-6.25zM36.88 54.15h6.25v5.52h-6.25zM-0.05 59.57h6.25v5.52h-6.25zM36.88 59.57h6.25v5.52h-6.25zM104.57 59.57h6.25v5.52h-6.25zM30.72 64.99h6.25v5.52h-6.25zM116.88 75.83h6.25v5.52h-6.25z"/>
<path fill="#ffe500" d="M86.11 5.37h18.56v5.52h-18.56zM79.95 10.79h6.25v5.52h-6.25zM73.8 16.21h6.25v5.52h-6.25zM73.8 21.63h6.25v5.52h-6.25zM-0.05 27.05h6.25v5.52h-6.25zM18.41 32.47h6.25v5.52h-6.25zM79.95 32.47h6.25v5.52h-6.25zM24.57 37.89h6.25v5.52h-6.25zM92.26 37.89h12.41v5.52h-12.41zM30.72 43.31h6.25v5.52h-6.25zM43.03 54.15h6.25v5.52h-6.25zM104.57 54.15h6.25v5.52h-6.25zM104.57 64.99h6.25v5.52h-6.25zM12.26 75.83h12.41v5.52h-12.41zM110.72 75.83h6.25v5.52h-6.25zM18.41 81.25h6.25v5.52h-6.25zM135.34 81.25h12.41v5.52h-12.41zM18.41 86.67h12.41v5.52h-12.41z"/>
<path fill="#ffb300" d="M92.26 -0.05h6.25v5.52h-6.25zM79.95 5.37h6.25v5.52h-6.25zM67.65 16.21h6.25v5.52h-6.25zM-0.05 21.63h6.25v5.52h-6.25zM67.65 21.63h6.25v5.52h-6.25zM6.1 27.05h12.41v5.52h-12.41zM73.8 27.05h6.25v5.52h-6.25zM30.72 37.89h6.25v5.52h-6.25zM86.11 37.89h6.25v5.52h-6.25zM110.72 43.31h6.25v5.52h-6.25zM43.03 59.57h6.25v5.52h-6.25zM104.57 70.41h6.25v5.52h-6.25zM24.57 81.25h6.25v5.52h-6.25zM116.88 81.25h18.56v5.52h-18.56zM141.5 86.67h6.25v5.52h-6.25z"/>
<path fill="#ff8000" d="M86.11 -0.05h6.25v5.52h-6.25zM98.42 -0.05h6.25v5.52h-6.25zM6.1 21.63h6.25v5.52h-6.25zM18.41 27.05h6.25v5.52h-6.25zM67.65 27.05h6.25v5.52h-6.25zM24.57 32.47h6.25v5.52h-6.25zM73.8 32.47h6.25v5.52h-6.25zM36.88 37.89h12.41v5.52h-12.41zM79.95 37.89h6.25v5.52h-6.25zM104.57 37.89h6.25v5.52h-6.25zM43.03 43.31h6.25v5.52h-6.25zM43.03 48.73h6.25v5.52h-6.25zM36.88 64.99h6.25v5.52h-6.25zM98.42 64.99h6.25v5.52h-6.25zM98.42 70.41h6.25v5.52h-6.25zM-0.05 75.83h12.41v5.52h-12.41zM104.57 75.83h6.25v5.52h-6.25zM12.26 81.25h6.25v5.52h-6.25zM110.72 81.25h6.25v5.52h-6.25zM6.1 86.67h6.25v5.52h-6.25zM30.72 86.67h6.25v5.52h-6.25zM123.03 86.67h18.56v5.52h-18.56zM6.1 92.09h6.25v5.52h-6.25zM18.41 92.09h12.41v5.52h-12.41z"/>
<path fill="#ff4c00" d="M79.95 -0.05h6.25v5.52h-6.25zM73.8 10.79h6.25v5.52h-6.25zM-0.05 16.21h12.41v5.52h-12.41zM12.26 21.63h6.25v5.52h-6.25zM24.57 27.05h6.25v5.52h-6.25zM30.72 32.47h6.25v5.52h-6.25zM73.8 37.89h6.25v5.52h-6.25zM92.26 43.31h6.25v5.52h-6.25zM104.57 43.31h6.25v5.52h-6.25zM98.42 59.57h6.25v5.52h-6.25zM43.03 64.99h6.25v5.52h-6.25zM30.72 70.41h6.25v5.52h-6.25zM30.72 75.83h6.25v5.52h-6.25zM98.42 75.83h6.25v5.52h-6.25zM30.72 81.25h6.25v5.52h-6.25zM104.57 81.25h6.25v5.52h-6.25zM-0.05 86.67h6.25v5.52h-6.25zM12.26 86.67h6.25v5.52h-6.25zM49.18 86.67h6.25v5.52h-6.25zM110.72 86.67h12.41v5.52h-12.41zM-0.05 92.09h6.25v5.52h-6.25zM12.26 92.09h6.25v5.52h-6.25zM30.72 92.09h6.25v5.52h-6.25zM43.03 92.09h6.25v5.52h-6.25zM135.34 92.09h6.25v5.52h-6.25z"/>
<path fill="#ff1a00" d="M-0.05 5.37h6.25v5.52h-6.25zM73.8 5.37h6.25v5.52h-6.25zM-0.05 10.79h12.41v5.52h-12.41zM67.65 10.79h6.25v5.52h-6.25zM12.26 16.21h6.25v5.52h-6.25zM18.41 21.63h6.25v5.52h-6.25zM30.72 27.05h6.25v5.52h-6.25zM61.49 27.05h6.25v5.52h-6.25zM36.88 32.47h6.25v5.52h-6.25zM67.65 43.31h6.25v5.52h-6.25zM79.95 43.31h12.41v5.52h-12.41zM98.42 43.31h6.25v5.52h-6.25zM67.65 48.73h6.25v5.52h-6.25zM104.57 48.73h6.25v5.52h-6.25zM98.42 54.15h6.25v5.52h-6.25zM49.18 59.57h6.25v5.52h-6.25zM49.18 64.99h6.25v5.52h-6.25zM-0.05 81.25h6.25v5.52h-6.25zM36.88 81.25h6.25v5.52h-6.25zM98.42 81.25h6.25v5.52h-6.25zM36.88 86.67h6.25v5.52h-6.25zM104.57 86.67h6.25v5.52h-6.25zM49.18 92.09h6.25v5.52h-6.25zM110.72 92.09h24.72v5.52h-24.72zM141.5 92.09h6.25v5.52h-6.25zM-0.05 97.51h49.33v5.52h-49.33z"/>
<path fill="#e50000" d="M-0.05 -0.05h18.56v5.52h-18.56zM73.8 -0.05h6.25v5.52h-6.25zM6.1 5.37h6.25v5.52h-6.25zM12.26 10.79h6.25v5.52h-6.25zM18.41 16.21h6.25v5.52h-6.25zM61.49 16.21h6.25v5.52h-6.25zM24.57 21.63h6.25v5.52h-6.25zM61.49 21.63h6.25v5.52h-6.25zM43.03 32.47h6.25v5.52h-6.25zM55.34 32.47h18.56v5.52h-18.56zM49.18 37.89h6.25v5.52h-6.25zM67.65 37.89h6.25v5.52h-6.25zM49.18 43.31h6.25v5.52h-6.25zM61.49 43.31h6.25v5.52h-6.25zM73.8 43.31h6.25v5.52h-6.25zM49.18 48.73h6.25v5.52h-6.25zM61.49 48.73h6.25v5.52h-6.25zM92.26 48.73h12.41v5.52h-12.41zM49.18 54.15h6.25v5.52h-6.25zM55.34 59.57h6.25v5.52h-6.25zM92.26 59.57h6.25v5.52h-6.25zM55.34 64.99h6.25v5.52h-6.25zM92.26 64.99h6.25v5.52h-6.25zM36.88 70.41h6.25v5.52h-6.25zM92.26 70.41h6.25v5.52h-6.25zM36.88 75.83h6.25v5.52h-6.25zM92.26 75.83h6.25v5.52h-6.25zM6.1 81.25h6.25v5.52h-6.25zM43.03 81.25h6.25v5.52h-6.25zM92.26 81.25h6.25v5.52h-6.25zM43.03 86.67h6.25v5.52h-6.25zM98.42 86.67h6.25v5.52h-6.25zM36.88 92.09h6.25v5.52h-6.25zM55.34 92.09h12.41v5.52h-12.41zM98.42 92.09h12.41v5.52h-12.41zM49.18 97.51h18.56v5.52h-18.56zM104.57 97.51h43.18v5.52h-43.18zM-0.05 102.93h37.02v5.52h-37.02zM73.8 102.93h43.18v5.52h-43.18z"/>
<path fill="#c70000" d="M18.41 -0.05h55.49v5.52h-55.49zM12.26 5.37h61.64v5.52h-61.64zM18.41 10.79h49.33v5.52h-49.33zM24.57 16.21h37.02v5.52h-37.02zM30.72 21.63h30.87v5.52h-30.87zM36.88 27.05h24.72v5.52h-24.72zM49.18 32.47h6.25v5.52h-6.25zM55.34 37.89h12.41v5.52h-12.41zM55.34 43.31h6.25v5.52h-6.25zM55.34 48.73h6.25v5.52h-6.25zM73.8 48.73h18.56v5.52h-18.56zM55.34 54.15h43.18v5.52h-43.18zM61.49 59.57h30.87v5.52h-30.87zM61.49 64.99h30.87v5.52h-30.87zM43.03 70.41h49.33v5.52h-49.33zM43.03 75.83h49.33v5.52h-49.33zM49.18 81.25h43.18v5.52h-43.18zM55.34 86.67h43.18v5.52h-43.18zM67.65 92.09h30.87v5.52h-30.87zM67.65 97.51h37.02v5.52h-37.02zM36.88 102.93h37.02v5.52h-37.02zM116.88 102.93h30.87v5.52h-30.87z"/>
</g></g>
<path d="M67.7 32.52L55.39 32.52L55.39 37.94L49.23 37.94L49.23 43.36L43.08 43.36L43.08 48.78M110.77 32.52L129.24 32.52L129.24 37.94L147 37.94M129.24 37.94L129.24 48.78L123.08 48.78M129.24 43.36L135.39 43.36L135.39 48.78L147 48.78M92.31 43.36L92.31 54.2L98.47 54.2L98.47 59.62L110.77 59.62L110.77 54.2L116.93 54.2L116.93 75.88M116.93 70.46L129.24 70.46M55.39 75.88L86.16 75.88L86.16 81.3L104.62 81.3L104.62 75.88L116.93 75.88" fill="none" stroke="#000" stroke-width="1.15" stroke-dasharray="3.9 1.6"/>
<path d="M18.46 70.46L24.62 70.46L24.62 65.04L43.08 65.04M36.92 65.04L36.92 75.88L30.77 75.88L30.77 81.3L24.62 81.3M12.31 86.72L12.31 107.7M55.39 86.72L49.23 86.72L49.23 92.14L43.08 92.14L43.08 97.56L36.92 97.56L36.92 107.7" fill="none" stroke="#000" stroke-width="0.9"/>
<path d="M0.7 48.78L12.31 48.78L12.31 54.2L36.92 54.2L36.92 37.94L30.77 37.94L30.77 21.68L43.08 21.68L43.08 16.26L80 16.26L80 5.42L86.16 5.42L86.16 0.7M73.85 16.26L73.85 27.1L67.7 27.1L67.7 32.52L73.85 32.52L73.85 37.94L80 37.94L80 43.36L110.77 43.36M98.47 0.7L98.47 5.42L104.62 5.42L104.62 10.84L110.77 10.84L110.77 48.78L123.08 48.78L123.08 54.2L129.24 54.2L129.24 59.62L135.39 59.62L135.39 70.46L129.24 70.46L129.24 75.88L135.39 75.88L135.39 86.72L147 86.72M36.92 48.78L43.08 48.78L43.08 59.62L49.23 59.62L49.23 70.46L55.39 70.46L55.39 107.7M0.7 70.46L18.46 70.46L18.46 75.88L24.62 75.88L24.62 81.3L18.46 81.3L18.46 86.72L0.7 86.72" fill="none" stroke="#000" stroke-width="2.4" stroke-linejoin="miter" stroke-linecap="butt"/>
<rect x="1.15" y="1.15" width="145.4" height="106.1" fill="none" stroke="#000" stroke-width="2.3"/>
<rect x="150.3" y="0" width="6.6" height="108.4" fill="url(#jet)" stroke="#000" stroke-opacity="0.55" stroke-width="0.5"/>
<text x="163.2" y="8.4" font-size="11.6" fill="#262626">1.00</text>
<text x="163.2" y="33.4" font-size="11.6" fill="#262626">0.75</text>
<text x="163.2" y="58.4" font-size="11.6" fill="#262626">0.50</text>
<text x="163.2" y="83.4" font-size="11.6" fill="#262626">0.25</text>
<text x="163.2" y="108.4" font-size="11.6" fill="#262626">0.00</text>
<text x="79.35" y="-9" font-size="16" fill="#262626" text-anchor="middle">pCrossBreed</text>
<text x="-22.1" y="-13.4" font-size="16.3" letter-spacing="0.5" font-weight="bold" fill="#1a1a1a">(c)</text>
</g>
<g transform="translate(22.63,186.2)">
<g clip-path="url(#cp)"><g filter="url(#bl)" shape-rendering="crispEdges"><rect x="-1" y="-1" width="149.7" height="110.4" fill="#000"/>
<path fill="#0000a3" d="M-0.05 -0.05h6.25v5.52h-6.25zM-0.05 5.37h6.25v5.52h-6.25zM-0.05 10.79h6.25v5.52h-6.25zM-0.05 16.21h6.25v5.52h-6.25zM-0.05 21.63h6.25v5.52h-6.25zM-0.05 27.05h6.25v5.52h-6.25zM-0.05 32.47h6.25v5.52h-6.25zM-0.05 37.89h6.25v5.52h-6.25zM-0.05 43.31h6.25v5.52h-6.25zM18.41 48.73h6.25v5.52h-6.25zM-0.05 97.51h6.25v5.52h-6.25zM-0.05 102.93h6.25v5.52h-6.25z"/>
<path fill="#0000d6" d="M6.1 -0.05h6.25v5.52h-6.25zM6.1 5.37h6.25v5.52h-6.25zM6.1 10.79h6.25v5.52h-6.25zM6.1 16.21h6.25v5.52h-6.25zM6.1 21.63h6.25v5.52h-6.25zM6.1 27.05h6.25v5.52h-6.25zM6.1 32.47h6.25v5.52h-6.25zM6.1 37.89h6.25v5.52h-6.25zM6.1 43.31h6.25v5.52h-6.25zM-0.05 48.73h6.25v5.52h-6.25zM12.26 48.73h6.25v5.52h-6.25zM-0.05 54.15h6.25v5.52h-6.25zM-0.05 59.57h6.25v5.52h-6.25zM-0.05 64.99h6.25v5.52h-6.25zM-0.05 86.67h6.25v5.52h-6.25zM-0.05 92.09h6.25v5.52h-6.25z"/>
<path fill="#001aff" d="M6.1 54.15h6.25v5.52h-6.25zM18.41 54.15h6.25v5.52h-6.25zM6.1 97.51h6.25v5.52h-6.25zM6.1 102.93h6.25v5.52h-6.25z"/>
<path fill="#004dff" d="M12.26 -0.05h6.25v5.52h-6.25zM12.26 5.37h6.25v5.52h-6.25zM12.26 10.79h6.25v5.52h-6.25zM12.26 16.21h6.25v5.52h-6.25zM12.26 21.63h6.25v5.52h-6.25zM12.26 27.05h6.25v5.52h-6.25zM12.26 32.47h6.25v5.52h-6.25zM12.26 37.89h6.25v5.52h-6.25zM12.26 43.31h6.25v5.52h-6.25zM6.1 48.73h6.25v5.52h-6.25zM12.26 54.15h6.25v5.52h-6.25zM6.1 92.09h6.25v5.52h-6.25z"/>
<path fill="#0080ff" d="M6.1 59.57h6.25v5.52h-6.25zM-0.05 70.41h6.25v5.52h-6.25zM24.57 75.83h6.25v5.52h-6.25zM-0.05 81.25h6.25v5.52h-6.25zM6.1 86.67h6.25v5.52h-6.25z"/>
<path fill="#00b2ff" d="M18.41 -0.05h6.25v5.52h-6.25zM18.41 5.37h6.25v5.52h-6.25zM18.41 10.79h6.25v5.52h-6.25zM18.41 16.21h6.25v5.52h-6.25zM6.1 64.99h6.25v5.52h-6.25zM12.26 97.51h6.25v5.52h-6.25zM12.26 102.93h6.25v5.52h-6.25z"/>
<path fill="#00e5ff" d="M18.41 21.63h6.25v5.52h-6.25zM18.41 27.05h6.25v5.52h-6.25zM18.41 32.47h6.25v5.52h-6.25zM18.41 37.89h6.25v5.52h-6.25zM18.41 43.31h6.25v5.52h-6.25zM12.26 59.57h6.25v5.52h-6.25zM12.26 92.09h6.25v5.52h-6.25z"/>
<path fill="#1affe5" d="M24.57 -0.05h6.25v5.52h-6.25zM24.57 5.37h6.25v5.52h-6.25zM24.57 10.79h6.25v5.52h-6.25zM24.57 16.21h6.25v5.52h-6.25zM24.57 21.63h6.25v5.52h-6.25zM12.26 64.99h6.25v5.52h-6.25zM6.1 70.41h6.25v5.52h-6.25zM12.26 86.67h6.25v5.52h-6.25zM30.72 86.67h6.25v5.52h-6.25zM18.41 97.51h6.25v5.52h-6.25zM18.41 102.93h6.25v5.52h-6.25z"/>
<path fill="#4dffb2" d="M24.57 27.05h6.25v5.52h-6.25zM24.57 32.47h6.25v5.52h-6.25zM24.57 37.89h6.25v5.52h-6.25zM24.57 43.31h6.25v5.52h-6.25zM18.41 59.57h6.25v5.52h-6.25zM18.41 64.99h6.25v5.52h-6.25zM18.41 86.67h6.25v5.52h-6.25zM18.41 92.09h6.25v5.52h-6.25z"/>
<path fill="#ffcc00" d="M43.03 16.21h6.25v5.52h-6.25zM36.88 21.63h18.56v5.52h-18.56zM73.8 21.63h6.25v5.52h-6.25zM43.03 27.05h12.41v5.52h-12.41zM67.65 27.05h18.56v5.52h-18.56zM43.03 32.47h12.41v5.52h-12.41zM36.88 37.89h12.41v5.52h-12.41zM43.03 43.31h6.25v5.52h-6.25zM36.88 48.73h43.18v5.52h-43.18zM43.03 54.15h6.25v5.52h-6.25zM73.8 54.15h12.41v5.52h-12.41zM43.03 64.99h6.25v5.52h-6.25z"/>
<path fill="#ff9900" d="M92.26 -0.05h6.25v5.52h-6.25zM86.11 5.37h12.41v5.52h-12.41zM73.8 10.79h30.87v5.52h-30.87zM79.95 16.21h24.72v5.52h-24.72zM92.26 21.63h12.41v5.52h-12.41zM98.42 27.05h6.25v5.52h-6.25zM98.42 32.47h6.25v5.52h-6.25zM104.57 37.89h6.25v5.52h-6.25z"/>
<path fill="#ff6600" d="M86.11 75.83h12.41v5.52h-12.41zM110.72 75.83h12.41v5.52h-12.41zM92.26 81.25h30.87v5.52h-30.87zM61.49 86.67h61.64v5.52h-61.64zM55.34 92.09h55.49v5.52h-55.49zM116.88 92.09h12.41v5.52h-12.41z"/>
<path fill="#ff3300" d="M55.34 97.51h12.41v5.52h-12.41zM73.8 97.51h24.72v5.52h-24.72z"/>
<path fill="#80ff80" d="M30.72 -0.05h6.25v5.52h-6.25zM30.72 5.37h6.25v5.52h-6.25zM30.72 10.79h6.25v5.52h-6.25zM30.72 16.21h6.25v5.52h-6.25zM86.11 43.31h12.41v5.52h-12.41zM24.57 48.73h6.25v5.52h-6.25zM92.26 48.73h6.25v5.52h-6.25zM6.1 81.25h6.25v5.52h-6.25zM24.57 81.25h6.25v5.52h-6.25zM24.57 86.67h6.25v5.52h-6.25zM24.57 92.09h6.25v5.52h-6.25zM24.57 97.51h6.25v5.52h-6.25zM24.57 102.93h6.25v5.52h-6.25z"/>
<path fill="#b3ff4c" d="M36.88 16.21h6.25v5.52h-6.25zM30.72 21.63h6.25v5.52h-6.25zM30.72 27.05h6.25v5.52h-6.25zM30.72 32.47h6.25v5.52h-6.25zM30.72 37.89h6.25v5.52h-6.25zM86.11 37.89h6.25v5.52h-6.25zM86.11 48.73h6.25v5.52h-6.25zM24.57 54.15h6.25v5.52h-6.25zM43.03 70.41h6.25v5.52h-6.25zM18.41 81.25h6.25v5.52h-6.25zM36.88 81.25h6.25v5.52h-6.25z"/>
<path fill="#e5ff1a" d="M36.88 -0.05h6.25v5.52h-6.25zM36.88 5.37h6.25v5.52h-6.25zM36.88 10.79h6.25v5.52h-6.25zM36.88 27.05h6.25v5.52h-6.25zM36.88 32.47h6.25v5.52h-6.25zM49.18 37.89h6.25v5.52h-6.25zM79.95 37.89h6.25v5.52h-6.25zM92.26 37.89h6.25v5.52h-6.25zM30.72 43.31h6.25v5.52h-6.25zM49.18 43.31h6.25v5.52h-6.25zM79.95 43.31h6.25v5.52h-6.25zM79.95 48.73h6.25v5.52h-6.25zM129.19 64.99h6.25v5.52h-6.25zM36.88 70.41h6.25v5.52h-6.25zM-0.05 75.83h6.25v5.52h-6.25zM36.88 86.67h6.25v5.52h-6.25zM30.72 92.09h6.25v5.52h-6.25z"/>
<path fill="#ffe500" d="M43.03 -0.05h6.25v5.52h-6.25zM43.03 5.37h6.25v5.52h-6.25zM43.03 10.79h6.25v5.52h-6.25zM55.34 32.47h12.41v5.52h-12.41zM73.8 32.47h18.56v5.52h-18.56zM55.34 37.89h24.72v5.52h-24.72zM55.34 43.31h24.72v5.52h-24.72zM98.42 43.31h6.25v5.52h-6.25zM98.42 48.73h6.25v5.52h-6.25zM86.11 54.15h12.41v5.52h-12.41zM141.5 70.41h6.25v5.52h-6.25zM30.72 75.83h6.25v5.52h-6.25zM43.03 75.83h12.41v5.52h-12.41zM12.26 81.25h6.25v5.52h-6.25zM30.72 81.25h6.25v5.52h-6.25zM43.03 81.25h6.25v5.52h-6.25zM141.5 86.67h6.25v5.52h-6.25zM30.72 97.51h6.25v5.52h-6.25zM30.72 102.93h6.25v5.52h-6.25z"/>
<path fill="#ffb300" d="M49.18 5.37h6.25v5.52h-6.25zM49.18 10.79h6.25v5.52h-6.25zM49.18 16.21h12.41v5.52h-12.41zM73.8 16.21h6.25v5.52h-6.25zM55.34 21.63h12.41v5.52h-12.41zM79.95 21.63h12.41v5.52h-12.41zM55.34 27.05h12.41v5.52h-12.41zM86.11 27.05h12.41v5.52h-12.41zM67.65 32.47h6.25v5.52h-6.25zM92.26 32.47h6.25v5.52h-6.25zM98.42 37.89h6.25v5.52h-6.25zM36.88 43.31h6.25v5.52h-6.25zM104.57 48.73h6.25v5.52h-6.25zM116.88 48.73h6.25v5.52h-6.25zM49.18 54.15h24.72v5.52h-24.72zM98.42 54.15h6.25v5.52h-6.25zM110.72 54.15h12.41v5.52h-12.41zM24.57 59.57h6.25v5.52h-6.25zM43.03 59.57h61.64v5.52h-61.64zM110.72 59.57h6.25v5.52h-6.25zM36.88 64.99h6.25v5.52h-6.25zM49.18 64.99h18.56v5.52h-18.56zM73.8 64.99h6.25v5.52h-6.25zM141.5 64.99h6.25v5.52h-6.25zM49.18 70.41h12.41v5.52h-12.41zM135.34 70.41h6.25v5.52h-6.25zM36.88 75.83h6.25v5.52h-6.25zM135.34 75.83h12.41v5.52h-12.41zM49.18 81.25h6.25v5.52h-6.25zM135.34 81.25h12.41v5.52h-12.41zM135.34 86.67h6.25v5.52h-6.25zM141.5 92.09h6.25v5.52h-6.25zM116.88 102.93h12.41v5.52h-12.41z"/>
<path fill="#ff8000" d="M49.18 -0.05h6.25v5.52h-6.25zM55.34 10.79h6.25v5.52h-6.25zM61.49 16.21h12.41v5.52h-12.41zM67.65 21.63h6.25v5.52h-6.25zM104.57 43.31h6.25v5.52h-6.25zM30.72 48.73h6.25v5.52h-6.25zM110.72 48.73h6.25v5.52h-6.25zM104.57 54.15h6.25v5.52h-6.25zM123.03 54.15h24.72v5.52h-24.72zM36.88 59.57h6.25v5.52h-6.25zM104.57 59.57h6.25v5.52h-6.25zM116.88 59.57h30.87v5.52h-30.87zM67.65 64.99h6.25v5.52h-6.25zM79.95 64.99h49.33v5.52h-49.33zM135.34 64.99h6.25v5.52h-6.25zM18.41 70.41h6.25v5.52h-6.25zM61.49 70.41h30.87v5.52h-30.87zM98.42 70.41h37.02v5.52h-37.02zM18.41 75.83h6.25v5.52h-6.25zM55.34 75.83h30.87v5.52h-30.87zM98.42 75.83h12.41v5.52h-12.41zM123.03 75.83h12.41v5.52h-12.41zM55.34 81.25h37.02v5.52h-37.02zM123.03 81.25h12.41v5.52h-12.41zM43.03 86.67h6.25v5.52h-6.25zM55.34 86.67h6.25v5.52h-6.25zM123.03 86.67h12.41v5.52h-12.41zM36.88 92.09h6.25v5.52h-6.25zM110.72 92.09h6.25v5.52h-6.25zM129.19 92.09h12.41v5.52h-12.41zM104.57 97.51h43.18v5.52h-43.18zM104.57 102.93h12.41v5.52h-12.41zM129.19 102.93h18.56v5.52h-18.56z"/>
<path fill="#ff4c00" d="M55.34 -0.05h6.25v5.52h-6.25zM86.11 -0.05h6.25v5.52h-6.25zM55.34 5.37h6.25v5.52h-6.25zM79.95 5.37h6.25v5.52h-6.25zM98.42 5.37h6.25v5.52h-6.25zM61.49 10.79h6.25v5.52h-6.25zM104.57 10.79h6.25v5.52h-6.25zM104.57 16.21h12.41v5.52h-12.41zM104.57 21.63h12.41v5.52h-12.41zM104.57 27.05h12.41v5.52h-12.41zM104.57 32.47h12.41v5.52h-12.41zM110.72 37.89h6.25v5.52h-6.25zM110.72 43.31h6.25v5.52h-6.25zM123.03 48.73h24.72v5.52h-24.72zM12.26 70.41h6.25v5.52h-6.25zM30.72 70.41h6.25v5.52h-6.25zM92.26 70.41h6.25v5.52h-6.25zM49.18 86.67h6.25v5.52h-6.25zM43.03 92.09h6.25v5.52h-6.25zM36.88 97.51h6.25v5.52h-6.25zM67.65 97.51h6.25v5.52h-6.25zM98.42 97.51h6.25v5.52h-6.25zM98.42 102.93h6.25v5.52h-6.25z"/>
<path fill="#ff1a00" d="M98.42 -0.05h12.41v5.52h-12.41zM141.5 -0.05h6.25v5.52h-6.25zM61.49 5.37h6.25v5.52h-6.25zM73.8 5.37h6.25v5.52h-6.25zM104.57 5.37h24.72v5.52h-24.72zM67.65 10.79h6.25v5.52h-6.25zM110.72 10.79h24.72v5.52h-24.72zM116.88 16.21h18.56v5.52h-18.56zM116.88 21.63h18.56v5.52h-18.56zM116.88 27.05h6.25v5.52h-6.25zM135.34 43.31h12.41v5.52h-12.41zM36.88 54.15h6.25v5.52h-6.25zM6.1 75.83h12.41v5.52h-12.41zM49.18 92.09h6.25v5.52h-6.25zM36.88 102.93h6.25v5.52h-6.25zM55.34 102.93h18.56v5.52h-18.56z"/>
<path fill="#e50000" d="M61.49 -0.05h6.25v5.52h-6.25zM79.95 -0.05h6.25v5.52h-6.25zM110.72 -0.05h30.87v5.52h-30.87zM67.65 5.37h6.25v5.52h-6.25zM129.19 5.37h18.56v5.52h-18.56zM135.34 10.79h12.41v5.52h-12.41zM135.34 16.21h12.41v5.52h-12.41zM135.34 21.63h12.41v5.52h-12.41zM123.03 27.05h24.72v5.52h-24.72zM116.88 32.47h6.25v5.52h-6.25zM135.34 32.47h12.41v5.52h-12.41zM116.88 37.89h6.25v5.52h-6.25zM135.34 37.89h12.41v5.52h-12.41zM116.88 43.31h18.56v5.52h-18.56zM24.57 64.99h12.41v5.52h-12.41zM24.57 70.41h6.25v5.52h-6.25zM43.03 97.51h12.41v5.52h-12.41zM73.8 102.93h24.72v5.52h-24.72z"/>
<path fill="#c70000" d="M67.65 -0.05h12.41v5.52h-12.41zM123.03 32.47h12.41v5.52h-12.41zM123.03 37.89h12.41v5.52h-12.41zM30.72 54.15h6.25v5.52h-6.25zM30.72 59.57h6.25v5.52h-6.25zM43.03 102.93h12.41v5.52h-12.41z"/>
</g></g>
<path d="M67.7 32.52L55.39 32.52L55.39 37.94L49.23 37.94L49.23 43.36L43.08 43.36L43.08 48.78M110.77 32.52L129.24 32.52L129.24 37.94L147 37.94M129.24 37.94L129.24 48.78L123.08 48.78M129.24 43.36L135.39 43.36L135.39 48.78L147 48.78M92.31 43.36L92.31 54.2L98.47 54.2L98.47 59.62L110.77 59.62L110.77 54.2L116.93 54.2L116.93 75.88M116.93 70.46L129.24 70.46M55.39 75.88L86.16 75.88L86.16 81.3L104.62 81.3L104.62 75.88L116.93 75.88" fill="none" stroke="#000" stroke-width="1.15" stroke-dasharray="3.9 1.6"/>
<path d="M18.46 70.46L24.62 70.46L24.62 65.04L43.08 65.04M36.92 65.04L36.92 75.88L30.77 75.88L30.77 81.3L24.62 81.3M12.31 86.72L12.31 107.7M55.39 86.72L49.23 86.72L49.23 92.14L43.08 92.14L43.08 97.56L36.92 97.56L36.92 107.7" fill="none" stroke="#000" stroke-width="0.9"/>
<path d="M0.7 48.78L12.31 48.78L12.31 54.2L36.92 54.2L36.92 37.94L30.77 37.94L30.77 21.68L43.08 21.68L43.08 16.26L80 16.26L80 5.42L86.16 5.42L86.16 0.7M73.85 16.26L73.85 27.1L67.7 27.1L67.7 32.52L73.85 32.52L73.85 37.94L80 37.94L80 43.36L110.77 43.36M98.47 0.7L98.47 5.42L104.62 5.42L104.62 10.84L110.77 10.84L110.77 48.78L123.08 48.78L123.08 54.2L129.24 54.2L129.24 59.62L135.39 59.62L135.39 70.46L129.24 70.46L129.24 75.88L135.39 75.88L135.39 86.72L147 86.72M36.92 48.78L43.08 48.78L43.08 59.62L49.23 59.62L49.23 70.46L55.39 70.46L55.39 107.7M0.7 70.46L18.46 70.46L18.46 75.88L24.62 75.88L24.62 81.3L18.46 81.3L18.46 86.72L0.7 86.72" fill="none" stroke="#000" stroke-width="2.4" stroke-linejoin="miter" stroke-linecap="butt"/>
<rect x="1.15" y="1.15" width="145.4" height="106.1" fill="none" stroke="#000" stroke-width="2.3"/>
<rect x="150.3" y="0" width="6.6" height="108.4" fill="url(#jet)" stroke="#000" stroke-opacity="0.55" stroke-width="0.5"/>
<text x="163.2" y="8.4" font-size="11.6" fill="#262626">1.00</text>
<text x="163.2" y="33.4" font-size="11.6" fill="#262626">0.75</text>
<text x="163.2" y="58.4" font-size="11.6" fill="#262626">0.50</text>
<text x="163.2" y="83.4" font-size="11.6" fill="#262626">0.25</text>
<text x="163.2" y="108.4" font-size="11.6" fill="#262626">0.00</text>
<text x="82.45" y="-9" font-size="16" fill="#262626" text-anchor="middle">pFemaleAnimals</text>
<text x="-21.63" y="-13.4" font-size="16.3" letter-spacing="0.5" font-weight="bold" fill="#1a1a1a">(d)</text>
</g>
<g transform="translate(250,186.2)">
<g clip-path="url(#cp)"><g filter="url(#bl)" shape-rendering="crispEdges"><rect x="-1" y="-1" width="149.7" height="110.4" fill="#000"/>
<path fill="#0000a3" d="M18.41 48.73h6.25v5.52h-6.25zM123.03 75.83h6.25v5.52h-6.25zM116.88 81.25h12.41v5.52h-12.41zM36.88 86.67h6.25v5.52h-6.25zM110.72 86.67h24.72v5.52h-24.72zM43.03 92.09h104.72v5.52h-104.72zM43.03 97.51h104.72v5.52h-104.72zM43.03 102.93h98.57v5.52h-98.57z"/>
<path fill="#0000d6" d="M61.49 -0.05h24.72v5.52h-24.72zM98.42 -0.05h49.33v5.52h-49.33zM61.49 5.37h18.56v5.52h-18.56zM104.57 5.37h43.18v5.52h-43.18zM67.65 10.79h6.25v5.52h-6.25zM110.72 10.79h37.02v5.52h-37.02zM61.49 16.21h12.41v5.52h-12.41zM110.72 16.21h37.02v5.52h-37.02zM135.34 21.63h12.41v5.52h-12.41zM123.03 27.05h24.72v5.52h-24.72zM116.88 32.47h30.87v5.52h-30.87zM129.19 37.89h18.56v5.52h-18.56zM18.41 54.15h6.25v5.52h-6.25zM30.72 54.15h6.25v5.52h-6.25zM30.72 59.57h6.25v5.52h-6.25zM24.57 64.99h12.41v5.52h-12.41zM123.03 64.99h12.41v5.52h-12.41zM123.03 70.41h6.25v5.52h-6.25zM116.88 75.83h6.25v5.52h-6.25zM129.19 75.83h6.25v5.52h-6.25zM55.34 81.25h18.56v5.52h-18.56zM110.72 81.25h6.25v5.52h-6.25zM129.19 81.25h6.25v5.52h-6.25zM43.03 86.67h6.25v5.52h-6.25zM55.34 86.67h55.49v5.52h-55.49zM36.88 92.09h6.25v5.52h-6.25zM36.88 102.93h6.25v5.52h-6.25zM141.5 102.93h6.25v5.52h-6.25z"/>
<path fill="#001aff" d="M86.11 -0.05h12.41v5.52h-12.41zM98.42 5.37h6.25v5.52h-6.25zM61.49 10.79h6.25v5.52h-6.25zM104.57 10.79h6.25v5.52h-6.25zM129.19 21.63h6.25v5.52h-6.25zM110.72 27.05h12.41v5.52h-12.41zM123.03 37.89h6.25v5.52h-6.25zM123.03 43.31h6.25v5.52h-6.25zM24.57 48.73h6.25v5.52h-6.25zM36.88 54.15h6.25v5.52h-6.25zM18.41 70.41h12.41v5.52h-12.41zM116.88 70.41h6.25v5.52h-6.25zM129.19 70.41h6.25v5.52h-6.25zM61.49 75.83h12.41v5.52h-12.41zM36.88 81.25h6.25v5.52h-6.25zM73.8 81.25h12.41v5.52h-12.41zM104.57 81.25h6.25v5.52h-6.25zM30.72 86.67h6.25v5.52h-6.25zM49.18 86.67h6.25v5.52h-6.25zM135.34 86.67h6.25v5.52h-6.25zM36.88 97.51h6.25v5.52h-6.25z"/>
<path fill="#004dff" d="M55.34 -0.05h6.25v5.52h-6.25zM55.34 5.37h6.25v5.52h-6.25zM79.95 5.37h6.25v5.52h-6.25zM92.26 5.37h6.25v5.52h-6.25zM55.34 10.79h6.25v5.52h-6.25zM73.8 10.79h6.25v5.52h-6.25zM98.42 10.79h6.25v5.52h-6.25zM55.34 16.21h6.25v5.52h-6.25zM104.57 16.21h6.25v5.52h-6.25zM110.72 21.63h18.56v5.52h-18.56zM116.88 37.89h6.25v5.52h-6.25zM24.57 54.15h6.25v5.52h-6.25zM24.57 59.57h6.25v5.52h-6.25zM12.26 70.41h6.25v5.52h-6.25zM30.72 70.41h6.25v5.52h-6.25zM18.41 75.83h6.25v5.52h-6.25zM55.34 75.83h6.25v5.52h-6.25zM110.72 75.83h6.25v5.52h-6.25zM49.18 81.25h6.25v5.52h-6.25zM86.11 81.25h18.56v5.52h-18.56z"/>
<path fill="#0080ff" d="M86.11 5.37h6.25v5.52h-6.25zM92.26 10.79h6.25v5.52h-6.25zM61.49 21.63h12.41v5.52h-12.41zM104.57 21.63h6.25v5.52h-6.25zM116.88 43.31h6.25v5.52h-6.25zM30.72 48.73h12.41v5.52h-12.41zM123.03 48.73h6.25v5.52h-6.25zM36.88 59.57h6.25v5.52h-6.25zM123.03 59.57h12.41v5.52h-12.41zM116.88 64.99h6.25v5.52h-6.25zM6.1 75.83h12.41v5.52h-12.41zM73.8 75.83h12.41v5.52h-12.41zM104.57 75.83h6.25v5.52h-6.25zM30.72 81.25h6.25v5.52h-6.25z"/>
<path fill="#00b2ff" d="M49.18 -0.05h6.25v5.52h-6.25zM49.18 5.37h6.25v5.52h-6.25zM49.18 10.79h6.25v5.52h-6.25zM79.95 10.79h12.41v5.52h-12.41zM49.18 16.21h6.25v5.52h-6.25zM98.42 16.21h6.25v5.52h-6.25zM55.34 21.63h6.25v5.52h-6.25zM110.72 32.47h6.25v5.52h-6.25zM110.72 70.41h6.25v5.52h-6.25zM86.11 75.83h18.56v5.52h-18.56zM43.03 81.25h6.25v5.52h-6.25z"/>
<path fill="#00e5ff" d="M73.8 16.21h6.25v5.52h-6.25zM92.26 16.21h6.25v5.52h-6.25zM61.49 27.05h6.25v5.52h-6.25zM104.57 27.05h6.25v5.52h-6.25zM129.19 43.31h6.25v5.52h-6.25zM55.34 70.41h24.72v5.52h-24.72zM30.72 75.83h6.25v5.52h-6.25zM49.18 75.83h6.25v5.52h-6.25zM135.34 81.25h6.25v5.52h-6.25zM30.72 92.09h6.25v5.52h-6.25zM30.72 102.93h6.25v5.52h-6.25z"/>
<path fill="#1affe5" d="M79.95 16.21h12.41v5.52h-12.41zM49.18 21.63h6.25v5.52h-6.25zM98.42 21.63h6.25v5.52h-6.25zM55.34 27.05h6.25v5.52h-6.25zM24.57 43.31h12.41v5.52h-12.41zM135.34 43.31h6.25v5.52h-6.25zM116.88 48.73h6.25v5.52h-6.25zM129.19 48.73h6.25v5.52h-6.25zM129.19 54.15h12.41v5.52h-12.41zM43.03 59.57h6.25v5.52h-6.25zM116.88 59.57h6.25v5.52h-6.25zM135.34 59.57h6.25v5.52h-6.25zM55.34 64.99h18.56v5.52h-18.56zM135.34 64.99h6.25v5.52h-6.25zM79.95 70.41h6.25v5.52h-6.25zM104.57 70.41h6.25v5.52h-6.25zM36.88 75.83h12.41v5.52h-12.41zM135.34 75.83h6.25v5.52h-6.25zM141.5 86.67h6.25v5.52h-6.25zM30.72 97.51h6.25v5.52h-6.25z"/>
<path fill="#4dffb2" d="M43.03 -0.05h6.25v5.52h-6.25zM43.03 5.37h6.25v5.52h-6.25zM43.03 21.63h6.25v5.52h-6.25zM73.8 21.63h6.25v5.52h-6.25zM92.26 21.63h6.25v5.52h-6.25zM49.18 32.47h6.25v5.52h-6.25zM67.65 32.47h6.25v5.52h-6.25zM61.49 37.89h6.25v5.52h-6.25zM73.8 37.89h6.25v5.52h-6.25zM36.88 43.31h6.25v5.52h-6.25zM135.34 48.73h6.25v5.52h-6.25zM123.03 54.15h6.25v5.52h-6.25zM141.5 54.15h6.25v5.52h-6.25zM18.41 59.57h6.25v5.52h-6.25zM49.18 59.57h12.41v5.52h-12.41zM141.5 59.57h6.25v5.52h-6.25zM36.88 64.99h6.25v5.52h-6.25zM73.8 64.99h12.41v5.52h-12.41zM104.57 64.99h6.25v5.52h-6.25zM49.18 70.41h6.25v5.52h-6.25zM135.34 70.41h6.25v5.52h-6.25zM141.5 81.25h6.25v5.52h-6.25z"/>
<path fill="#ffff00" d="M30.72 10.79h6.25v5.52h-6.25zM30.72 16.21h6.25v5.52h-6.25zM36.88 27.05h6.25v5.52h-6.25zM79.95 27.05h6.25v5.52h-6.25zM30.72 32.47h6.25v5.52h-6.25zM104.57 37.89h12.41v5.52h-12.41zM49.18 43.31h6.25v5.52h-6.25zM79.95 43.31h6.25v5.52h-6.25zM79.95 48.73h6.25v5.52h-6.25zM79.95 54.15h6.25v5.52h-6.25zM86.11 59.57h6.25v5.52h-6.25zM98.42 59.57h6.25v5.52h-6.25zM36.88 70.41h6.25v5.52h-6.25z"/>
<path fill="#33ffcc" d="M43.03 10.79h6.25v5.52h-6.25zM43.03 16.21h6.25v5.52h-6.25zM49.18 27.05h6.25v5.52h-6.25zM67.65 27.05h6.25v5.52h-6.25zM55.34 32.47h12.41v5.52h-12.41zM104.57 32.47h6.25v5.52h-6.25zM110.72 43.31h6.25v5.52h-6.25zM61.49 59.57h12.41v5.52h-12.41zM49.18 64.99h6.25v5.52h-6.25zM110.72 64.99h6.25v5.52h-6.25zM86.11 70.41h18.56v5.52h-18.56z"/>
<path fill="#80ff80" d="M36.88 10.79h6.25v5.52h-6.25zM79.95 21.63h12.41v5.52h-12.41zM43.03 27.05h6.25v5.52h-6.25zM73.8 27.05h6.25v5.52h-6.25zM98.42 27.05h6.25v5.52h-6.25zM43.03 32.47h6.25v5.52h-6.25zM73.8 32.47h6.25v5.52h-6.25zM30.72 37.89h18.56v5.52h-18.56zM55.34 37.89h6.25v5.52h-6.25zM67.65 37.89h6.25v5.52h-6.25zM61.49 43.31h6.25v5.52h-6.25zM73.8 43.31h6.25v5.52h-6.25zM43.03 48.73h6.25v5.52h-6.25zM55.34 48.73h6.25v5.52h-6.25zM43.03 54.15h24.72v5.52h-24.72zM73.8 59.57h6.25v5.52h-6.25zM110.72 59.57h6.25v5.52h-6.25zM43.03 64.99h6.25v5.52h-6.25zM86.11 64.99h18.56v5.52h-18.56zM141.5 64.99h6.25v5.52h-6.25zM-0.05 75.83h6.25v5.52h-6.25zM141.5 75.83h6.25v5.52h-6.25z"/>
<path fill="#b3ff4c" d="M36.88 -0.05h6.25v5.52h-6.25zM36.88 5.37h6.25v5.52h-6.25zM36.88 16.21h6.25v5.52h-6.25zM36.88 21.63h6.25v5.52h-6.25zM86.11 27.05h12.41v5.52h-12.41zM36.88 32.47h6.25v5.52h-6.25zM79.95 32.47h12.41v5.52h-12.41zM24.57 37.89h6.25v5.52h-6.25zM49.18 37.89h6.25v5.52h-6.25zM79.95 37.89h6.25v5.52h-6.25zM18.41 43.31h6.25v5.52h-6.25zM43.03 43.31h6.25v5.52h-6.25zM55.34 43.31h6.25v5.52h-6.25zM67.65 43.31h6.25v5.52h-6.25zM49.18 48.73h6.25v5.52h-6.25zM61.49 48.73h18.56v5.52h-18.56zM67.65 54.15h12.41v5.52h-12.41zM116.88 54.15h6.25v5.52h-6.25zM79.95 59.57h6.25v5.52h-6.25zM104.57 59.57h6.25v5.52h-6.25zM18.41 64.99h6.25v5.52h-6.25zM43.03 70.41h6.25v5.52h-6.25zM141.5 70.41h6.25v5.52h-6.25zM12.26 81.25h6.25v5.52h-6.25zM24.57 81.25h6.25v5.52h-6.25zM24.57 86.67h6.25v5.52h-6.25zM24.57 92.09h6.25v5.52h-6.25zM24.57 97.51h6.25v5.52h-6.25zM24.57 102.93h6.25v5.52h-6.25z"/>
<path fill="#e5ff1a" d="M30.72 -0.05h6.25v5.52h-6.25zM30.72 5.37h6.25v5.52h-6.25zM12.26 48.73h6.25v5.52h-6.25zM6.1 81.25h6.25v5.52h-6.25z"/>
<path fill="#ffe500" d="M24.57 -0.05h6.25v5.52h-6.25zM12.26 54.15h6.25v5.52h-6.25zM18.41 81.25h6.25v5.52h-6.25z"/>
<path fill="#ffb300" d="M24.57 5.37h6.25v5.52h-6.25zM24.57 32.47h6.25v5.52h-6.25zM92.26 32.47h6.25v5.52h-6.25zM18.41 37.89h6.25v5.52h-6.25zM86.11 37.89h6.25v5.52h-6.25zM86.11 54.15h6.25v5.52h-6.25zM12.26 59.57h6.25v5.52h-6.25zM92.26 59.57h6.25v5.52h-6.25zM24.57 75.83h6.25v5.52h-6.25zM18.41 92.09h6.25v5.52h-6.25zM18.41 97.51h6.25v5.52h-6.25zM18.41 102.93h6.25v5.52h-6.25z"/>
<path fill="#ff8000" d="M18.41 -0.05h6.25v5.52h-6.25zM24.57 10.79h6.25v5.52h-6.25zM24.57 16.21h6.25v5.52h-6.25zM30.72 21.63h6.25v5.52h-6.25zM18.41 27.05h6.25v5.52h-6.25zM30.72 27.05h6.25v5.52h-6.25zM18.41 32.47h6.25v5.52h-6.25zM98.42 32.47h6.25v5.52h-6.25zM12.26 43.31h6.25v5.52h-6.25zM86.11 43.31h6.25v5.52h-6.25zM141.5 43.31h6.25v5.52h-6.25zM86.11 48.73h6.25v5.52h-6.25zM141.5 48.73h6.25v5.52h-6.25zM92.26 54.15h6.25v5.52h-6.25zM110.72 54.15h6.25v5.52h-6.25zM6.1 64.99h12.41v5.52h-12.41zM-0.05 70.41h12.41v5.52h-12.41zM-0.05 81.25h6.25v5.52h-6.25zM18.41 86.67h6.25v5.52h-6.25z"/>
<path fill="#ff4c00" d="M18.41 5.37h6.25v5.52h-6.25zM18.41 21.63h12.41v5.52h-12.41zM12.26 27.05h6.25v5.52h-6.25zM24.57 27.05h6.25v5.52h-6.25zM12.26 32.47h6.25v5.52h-6.25zM12.26 37.89h6.25v5.52h-6.25zM98.42 37.89h6.25v5.52h-6.25zM110.72 48.73h6.25v5.52h-6.25zM98.42 54.15h12.41v5.52h-12.41zM6.1 86.67h12.41v5.52h-12.41zM12.26 92.09h6.25v5.52h-6.25zM12.26 97.51h6.25v5.52h-6.25z"/>
<path fill="#ff1a00" d="M18.41 10.79h6.25v5.52h-6.25zM18.41 16.21h6.25v5.52h-6.25zM12.26 21.63h6.25v5.52h-6.25zM92.26 37.89h6.25v5.52h-6.25zM6.1 59.57h6.25v5.52h-6.25zM-0.05 64.99h6.25v5.52h-6.25zM12.26 102.93h6.25v5.52h-6.25z"/>
<path fill="#e50000" d="M12.26 -0.05h6.25v5.52h-6.25zM12.26 5.37h6.25v5.52h-6.25zM12.26 10.79h6.25v5.52h-6.25zM12.26 16.21h6.25v5.52h-6.25zM6.1 27.05h6.25v5.52h-6.25zM6.1 32.47h6.25v5.52h-6.25zM6.1 37.89h6.25v5.52h-6.25zM6.1 43.31h6.25v5.52h-6.25zM104.57 43.31h6.25v5.52h-6.25zM6.1 48.73h6.25v5.52h-6.25zM6.1 54.15h6.25v5.52h-6.25zM-0.05 86.67h6.25v5.52h-6.25zM6.1 92.09h6.25v5.52h-6.25zM6.1 97.51h6.25v5.52h-6.25z"/>
<path fill="#c70000" d="M6.1 -0.05h6.25v5.52h-6.25zM6.1 5.37h6.25v5.52h-6.25zM6.1 10.79h6.25v5.52h-6.25zM6.1 16.21h6.25v5.52h-6.25zM6.1 21.63h6.25v5.52h-6.25zM92.26 43.31h12.41v5.52h-12.41zM-0.05 48.73h6.25v5.52h-6.25zM92.26 48.73h6.25v5.52h-6.25zM104.57 48.73h6.25v5.52h-6.25zM-0.05 54.15h6.25v5.52h-6.25zM-0.05 59.57h6.25v5.52h-6.25zM-0.05 92.09h6.25v5.52h-6.25zM-0.05 97.51h6.25v5.52h-6.25zM6.1 102.93h6.25v5.52h-6.25z"/>
<path fill="#800000" d="M-0.05 -0.05h6.25v5.52h-6.25zM-0.05 5.37h6.25v5.52h-6.25zM-0.05 10.79h6.25v5.52h-6.25zM-0.05 16.21h6.25v5.52h-6.25zM-0.05 21.63h6.25v5.52h-6.25zM-0.05 27.05h6.25v5.52h-6.25zM-0.05 32.47h6.25v5.52h-6.25zM-0.05 37.89h6.25v5.52h-6.25zM-0.05 43.31h6.25v5.52h-6.25zM98.42 48.73h6.25v5.52h-6.25zM-0.05 102.93h6.25v5.52h-6.25z"/>
</g></g>
<path d="M67.7 32.52L55.39 32.52L55.39 37.94L49.23 37.94L49.23 43.36L43.08 43.36L43.08 48.78M110.77 32.52L129.24 32.52L129.24 37.94L147 37.94M129.24 37.94L129.24 48.78L123.08 48.78M129.24 43.36L135.39 43.36L135.39 48.78L147 48.78M92.31 43.36L92.31 54.2L98.47 54.2L98.47 59.62L110.77 59.62L110.77 54.2L116.93 54.2L116.93 75.88M116.93 70.46L129.24 70.46M55.39 75.88L86.16 75.88L86.16 81.3L104.62 81.3L104.62 75.88L116.93 75.88" fill="none" stroke="#000" stroke-width="1.15" stroke-dasharray="3.9 1.6"/>
<path d="M18.46 70.46L24.62 70.46L24.62 65.04L43.08 65.04M36.92 65.04L36.92 75.88L30.77 75.88L30.77 81.3L24.62 81.3M12.31 86.72L12.31 107.7M55.39 86.72L49.23 86.72L49.23 92.14L43.08 92.14L43.08 97.56L36.92 97.56L36.92 107.7" fill="none" stroke="#000" stroke-width="0.9"/>
<path d="M0.7 48.78L12.31 48.78L12.31 54.2L36.92 54.2L36.92 37.94L30.77 37.94L30.77 21.68L43.08 21.68L43.08 16.26L80 16.26L80 5.42L86.16 5.42L86.16 0.7M73.85 16.26L73.85 27.1L67.7 27.1L67.7 32.52L73.85 32.52L73.85 37.94L80 37.94L80 43.36L110.77 43.36M98.47 0.7L98.47 5.42L104.62 5.42L104.62 10.84L110.77 10.84L110.77 48.78L123.08 48.78L123.08 54.2L129.24 54.2L129.24 59.62L135.39 59.62L135.39 70.46L129.24 70.46L129.24 75.88L135.39 75.88L135.39 86.72L147 86.72M36.92 48.78L43.08 48.78L43.08 59.62L49.23 59.62L49.23 70.46L55.39 70.46L55.39 107.7M0.7 70.46L18.46 70.46L18.46 75.88L24.62 75.88L24.62 81.3L18.46 81.3L18.46 86.72L0.7 86.72" fill="none" stroke="#000" stroke-width="2.4" stroke-linejoin="miter" stroke-linecap="butt"/>
<rect x="1.15" y="1.15" width="145.4" height="106.1" fill="none" stroke="#000" stroke-width="2.3"/>
<rect x="150.3" y="0" width="6.6" height="108.4" fill="url(#jet)" stroke="#000" stroke-opacity="0.55" stroke-width="0.5"/>
<text x="163.2" y="8.4" font-size="11.6" fill="#262626">1.00</text>
<text x="163.2" y="33.4" font-size="11.6" fill="#262626">0.75</text>
<text x="163.2" y="58.4" font-size="11.6" fill="#262626">0.50</text>
<text x="163.2" y="83.4" font-size="11.6" fill="#262626">0.25</text>
<text x="163.2" y="108.4" font-size="11.6" fill="#262626">0.00</text>
<text x="82.45" y="-9" font-size="16" fill="#262626" text-anchor="middle">pMalesBetween1&amp;2Years</text>
<text x="-22.6" y="-13.4" font-size="16.3" letter-spacing="0.5" font-weight="bold" fill="#1a1a1a">(e)</text>
</g>
<g transform="translate(476.9,186.2)">
<g clip-path="url(#cp)"><g filter="url(#bl)" shape-rendering="crispEdges"><rect x="-1" y="-1" width="149.7" height="110.4" fill="#000"/>
<path fill="#0000d6" d="M67.65 10.79h6.25v5.52h-6.25zM129.19 37.89h12.41v5.52h-12.41zM141.5 86.67h6.25v5.52h-6.25zM141.5 92.09h6.25v5.52h-6.25z"/>
<path fill="#001aff" d="M67.65 5.37h6.25v5.52h-6.25zM12.26 64.99h6.25v5.52h-6.25zM12.26 86.67h6.25v5.52h-6.25z"/>
<path fill="#004dff" d="M6.1 64.99h6.25v5.52h-6.25zM18.41 70.41h6.25v5.52h-6.25zM18.41 81.25h6.25v5.52h-6.25z"/>
<path fill="#0080ff" d="M6.1 86.67h6.25v5.52h-6.25z"/>
<path fill="#00b2ff" d="M-0.05 64.99h6.25v5.52h-6.25z"/>
<path fill="#1affe5" d="M18.41 75.83h6.25v5.52h-6.25zM-0.05 86.67h6.25v5.52h-6.25z"/>
<path fill="#4dffb2" d="M12.26 70.41h6.25v5.52h-6.25zM12.26 81.25h6.25v5.52h-6.25z"/>
<path fill="#ffe500" d="M6.1 70.41h6.25v5.52h-6.25zM12.26 75.83h6.25v5.52h-6.25z"/>
<path fill="#ffb300" d="M6.1 81.25h6.25v5.52h-6.25z"/>
<path fill="#ff8000" d="M-0.05 70.41h6.25v5.52h-6.25z"/>
<path fill="#c70000" d="M6.1 75.83h6.25v5.52h-6.25zM-0.05 81.25h6.25v5.52h-6.25z"/>
<path fill="#969698" d="M-0.05 75.83h6.25v5.52h-6.25z"/>
<path fill="#000092" d="M-0.05 -0.05h147.8v5.52h-147.8zM-0.05 5.37h67.8v5.52h-67.8zM73.8 5.37h73.95v5.52h-73.95zM-0.05 10.79h67.8v5.52h-67.8zM73.8 10.79h73.95v5.52h-73.95zM-0.05 16.21h147.8v5.52h-147.8zM-0.05 21.63h147.8v5.52h-147.8zM-0.05 27.05h147.8v5.52h-147.8zM-0.05 32.47h147.8v5.52h-147.8zM-0.05 37.89h129.34v5.52h-129.34zM141.5 37.89h6.25v5.52h-6.25zM-0.05 43.31h147.8v5.52h-147.8zM-0.05 48.73h147.8v5.52h-147.8zM-0.05 54.15h147.8v5.52h-147.8zM-0.05 59.57h147.8v5.52h-147.8zM18.41 64.99h129.34v5.52h-129.34zM24.57 70.41h123.18v5.52h-123.18zM24.57 75.83h123.18v5.52h-123.18zM24.57 81.25h123.18v5.52h-123.18zM18.41 86.67h123.18v5.52h-123.18zM-0.05 92.09h141.65v5.52h-141.65zM-0.05 97.51h147.8v5.52h-147.8zM-0.05 102.93h147.8v5.52h-147.8z"/>
</g></g>
<path d="M67.7 32.52L55.39 32.52L55.39 37.94L49.23 37.94L49.23 43.36L43.08 43.36L43.08 48.78M110.77 32.52L129.24 32.52L129.24 37.94L147 37.94M129.24 37.94L129.24 48.78L123.08 48.78M129.24 43.36L135.39 43.36L135.39 48.78L147 48.78M92.31 43.36L92.31 54.2L98.47 54.2L98.47 59.62L110.77 59.62L110.77 54.2L116.93 54.2L116.93 75.88M116.93 70.46L129.24 70.46M55.39 75.88L86.16 75.88L86.16 81.3L104.62 81.3L104.62 75.88L116.93 75.88" fill="none" stroke="#000" stroke-width="1.15" stroke-dasharray="3.9 1.6"/>
<path d="M18.46 70.46L24.62 70.46L24.62 65.04L43.08 65.04M36.92 65.04L36.92 75.88L30.77 75.88L30.77 81.3L24.62 81.3M12.31 86.72L12.31 107.7M55.39 86.72L49.23 86.72L49.23 92.14L43.08 92.14L43.08 97.56L36.92 97.56L36.92 107.7" fill="none" stroke="#000" stroke-width="0.9"/>
<path d="M0.7 48.78L12.31 48.78L12.31 54.2L36.92 54.2L36.92 37.94L30.77 37.94L30.77 21.68L43.08 21.68L43.08 16.26L80 16.26L80 5.42L86.16 5.42L86.16 0.7M73.85 16.26L73.85 27.1L67.7 27.1L67.7 32.52L73.85 32.52L73.85 37.94L80 37.94L80 43.36L110.77 43.36M98.47 0.7L98.47 5.42L104.62 5.42L104.62 10.84L110.77 10.84L110.77 48.78L123.08 48.78L123.08 54.2L129.24 54.2L129.24 59.62L135.39 59.62L135.39 70.46L129.24 70.46L129.24 75.88L135.39 75.88L135.39 86.72L147 86.72M36.92 48.78L43.08 48.78L43.08 59.62L49.23 59.62L49.23 70.46L55.39 70.46L55.39 107.7M0.7 70.46L18.46 70.46L18.46 75.88L24.62 75.88L24.62 81.3L18.46 81.3L18.46 86.72L0.7 86.72" fill="none" stroke="#000" stroke-width="2.4" stroke-linejoin="miter" stroke-linecap="butt"/>
<rect x="1.15" y="1.15" width="145.4" height="106.1" fill="none" stroke="#000" stroke-width="2.3"/>
<rect x="150.3" y="0" width="6.6" height="108.4" fill="url(#jet)" stroke="#000" stroke-opacity="0.55" stroke-width="0.5"/>
<text x="163.2" y="8.4" font-size="11.6" fill="#262626">1.00</text>
<text x="163.2" y="33.4" font-size="11.6" fill="#262626">0.75</text>
<text x="163.2" y="58.4" font-size="11.6" fill="#262626">0.50</text>
<text x="163.2" y="83.4" font-size="11.6" fill="#262626">0.25</text>
<text x="163.2" y="108.4" font-size="11.6" fill="#262626">0.00</text>
<text x="82.45" y="-9" font-size="16" fill="#262626" text-anchor="middle">pAnimalsLess60Days</text>
<text x="-22.1" y="-13.4" font-size="16.3" letter-spacing="0.5" font-weight="bold" fill="#1a1a1a">(f)</text>
</g>
<g transform="translate(22.63,345.1)">
<g clip-path="url(#cp)"><g filter="url(#bl)" shape-rendering="crispEdges"><rect x="-1" y="-1" width="149.7" height="110.4" fill="#000"/>
<path fill="#0000d6" d="M18.41 75.83h6.25v5.52h-6.25z"/>
<path fill="#001aff" d="M110.72 -0.05h18.56v5.52h-18.56zM110.72 5.37h18.56v5.52h-18.56zM110.72 10.79h24.72v5.52h-24.72zM116.88 16.21h30.87v5.52h-30.87zM129.19 21.63h18.56v5.52h-18.56zM129.19 27.05h18.56v5.52h-18.56zM116.88 32.47h30.87v5.52h-30.87zM116.88 37.89h18.56v5.52h-18.56zM110.72 43.31h6.25v5.52h-6.25zM123.03 43.31h6.25v5.52h-6.25zM135.34 43.31h6.25v5.52h-6.25zM73.8 48.73h6.25v5.52h-6.25zM110.72 48.73h6.25v5.52h-6.25zM123.03 48.73h6.25v5.52h-6.25zM-0.05 54.15h6.25v5.52h-6.25zM73.8 54.15h6.25v5.52h-6.25zM-0.05 59.57h6.25v5.52h-6.25zM30.72 59.57h6.25v5.52h-6.25zM67.65 59.57h6.25v5.52h-6.25zM79.95 59.57h12.41v5.52h-12.41zM24.57 64.99h12.41v5.52h-12.41zM73.8 64.99h30.87v5.52h-30.87zM24.57 70.41h12.41v5.52h-12.41zM73.8 70.41h30.87v5.52h-30.87zM24.57 75.83h6.25v5.52h-6.25zM73.8 75.83h37.02v5.52h-37.02zM123.03 75.83h6.25v5.52h-6.25zM73.8 81.25h61.64v5.52h-61.64zM79.95 86.67h24.72v5.52h-24.72zM110.72 86.67h30.87v5.52h-30.87zM6.1 92.09h6.25v5.52h-6.25zM79.95 92.09h61.64v5.52h-61.64zM-0.05 97.51h6.25v5.52h-6.25zM79.95 97.51h67.8v5.52h-67.8zM49.18 102.93h6.25v5.52h-6.25zM86.11 102.93h61.64v5.52h-61.64z"/>
<path fill="#00b2ff" d="M141.5 -0.05h6.25v5.52h-6.25zM92.26 16.21h6.25v5.52h-6.25zM92.26 21.63h6.25v5.52h-6.25zM104.57 27.05h12.41v5.52h-12.41zM104.57 32.47h6.25v5.52h-6.25zM67.65 43.31h6.25v5.52h-6.25zM116.88 54.15h6.25v5.52h-6.25zM116.88 59.57h6.25v5.52h-6.25zM55.34 75.83h6.25v5.52h-6.25zM73.8 86.67h6.25v5.52h-6.25zM73.8 92.09h6.25v5.52h-6.25zM55.34 97.51h6.25v5.52h-6.25z"/>
<path fill="#00e5ff" d="M110.72 21.63h6.25v5.52h-6.25zM73.8 37.89h6.25v5.52h-6.25zM110.72 59.57h6.25v5.52h-6.25zM129.19 70.41h6.25v5.52h-6.25zM141.5 81.25h6.25v5.52h-6.25zM67.65 97.51h6.25v5.52h-6.25z"/>
<path fill="#1affe5" d="M79.95 5.37h6.25v5.52h-6.25zM110.72 32.47h6.25v5.52h-6.25zM67.65 37.89h6.25v5.52h-6.25zM61.49 43.31h6.25v5.52h-6.25zM6.1 48.73h6.25v5.52h-6.25zM36.88 48.73h6.25v5.52h-6.25zM55.34 48.73h6.25v5.52h-6.25zM6.1 81.25h6.25v5.52h-6.25zM55.34 81.25h6.25v5.52h-6.25zM67.65 81.25h6.25v5.52h-6.25zM55.34 86.67h6.25v5.52h-6.25zM55.34 92.09h6.25v5.52h-6.25zM61.49 97.51h6.25v5.52h-6.25z"/>
<path fill="#4dffb2" d="M86.11 10.79h6.25v5.52h-6.25zM79.95 32.47h6.25v5.52h-6.25zM43.03 48.73h6.25v5.52h-6.25zM6.1 64.99h6.25v5.52h-6.25zM-0.05 70.41h6.25v5.52h-6.25zM61.49 81.25h6.25v5.52h-6.25zM-0.05 86.67h6.25v5.52h-6.25zM67.65 86.67h6.25v5.52h-6.25zM67.65 92.09h6.25v5.52h-6.25z"/>
<path fill="#0066ff" d="M86.11 5.37h6.25v5.52h-6.25zM92.26 10.79h6.25v5.52h-6.25zM104.57 21.63h6.25v5.52h-6.25zM116.88 21.63h6.25v5.52h-6.25zM92.26 27.05h6.25v5.52h-6.25zM116.88 27.05h6.25v5.52h-6.25zM86.11 32.47h6.25v5.52h-6.25zM79.95 37.89h6.25v5.52h-6.25zM104.57 37.89h12.41v5.52h-12.41zM92.26 43.31h6.25v5.52h-6.25zM61.49 48.73h6.25v5.52h-6.25zM116.88 48.73h6.25v5.52h-6.25zM49.18 54.15h6.25v5.52h-6.25zM110.72 54.15h6.25v5.52h-6.25zM123.03 54.15h6.25v5.52h-6.25zM18.41 59.57h6.25v5.52h-6.25zM123.03 59.57h12.41v5.52h-12.41zM141.5 59.57h6.25v5.52h-6.25zM12.26 64.99h12.41v5.52h-12.41zM36.88 64.99h12.41v5.52h-12.41zM67.65 64.99h6.25v5.52h-6.25zM110.72 64.99h18.56v5.52h-18.56zM36.88 70.41h18.56v5.52h-18.56zM36.88 75.83h6.25v5.52h-6.25zM49.18 75.83h6.25v5.52h-6.25zM61.49 75.83h6.25v5.52h-6.25zM-0.05 81.25h6.25v5.52h-6.25zM24.57 81.25h6.25v5.52h-6.25zM49.18 81.25h6.25v5.52h-6.25zM12.26 86.67h6.25v5.52h-6.25zM49.18 86.67h6.25v5.52h-6.25zM104.57 86.67h6.25v5.52h-6.25zM141.5 86.67h6.25v5.52h-6.25zM24.57 92.09h12.41v5.52h-12.41zM24.57 97.51h12.41v5.52h-12.41zM73.8 97.51h6.25v5.52h-6.25zM61.49 102.93h12.41v5.52h-12.41z"/>
<path fill="#0033ff" d="M86.11 -0.05h24.72v5.52h-24.72zM129.19 -0.05h12.41v5.52h-12.41zM92.26 5.37h18.56v5.52h-18.56zM129.19 5.37h18.56v5.52h-18.56zM98.42 10.79h12.41v5.52h-12.41zM135.34 10.79h12.41v5.52h-12.41zM98.42 16.21h18.56v5.52h-18.56zM98.42 21.63h6.25v5.52h-6.25zM123.03 21.63h6.25v5.52h-6.25zM98.42 27.05h6.25v5.52h-6.25zM123.03 27.05h6.25v5.52h-6.25zM92.26 32.47h12.41v5.52h-12.41zM86.11 37.89h18.56v5.52h-18.56zM135.34 37.89h12.41v5.52h-12.41zM73.8 43.31h18.56v5.52h-18.56zM98.42 43.31h12.41v5.52h-12.41zM116.88 43.31h6.25v5.52h-6.25zM129.19 43.31h6.25v5.52h-6.25zM141.5 43.31h6.25v5.52h-6.25zM-0.05 48.73h6.25v5.52h-6.25zM67.65 48.73h6.25v5.52h-6.25zM79.95 48.73h30.87v5.52h-30.87zM129.19 48.73h18.56v5.52h-18.56zM6.1 54.15h37.02v5.52h-37.02zM55.34 54.15h18.56v5.52h-18.56zM79.95 54.15h30.87v5.52h-30.87zM129.19 54.15h18.56v5.52h-18.56zM6.1 59.57h12.41v5.52h-12.41zM24.57 59.57h6.25v5.52h-6.25zM36.88 59.57h30.87v5.52h-30.87zM73.8 59.57h6.25v5.52h-6.25zM92.26 59.57h18.56v5.52h-18.56zM135.34 59.57h6.25v5.52h-6.25zM49.18 64.99h18.56v5.52h-18.56zM104.57 64.99h6.25v5.52h-6.25zM129.19 64.99h6.25v5.52h-6.25zM18.41 70.41h6.25v5.52h-6.25zM55.34 70.41h18.56v5.52h-18.56zM104.57 70.41h24.72v5.52h-24.72zM30.72 75.83h6.25v5.52h-6.25zM43.03 75.83h6.25v5.52h-6.25zM67.65 75.83h6.25v5.52h-6.25zM110.72 75.83h12.41v5.52h-12.41zM129.19 75.83h6.25v5.52h-6.25zM30.72 81.25h18.56v5.52h-18.56zM135.34 81.25h6.25v5.52h-6.25zM18.41 86.67h30.87v5.52h-30.87zM-0.05 92.09h6.25v5.52h-6.25zM12.26 92.09h12.41v5.52h-12.41zM36.88 92.09h18.56v5.52h-18.56zM141.5 92.09h6.25v5.52h-6.25zM6.1 97.51h18.56v5.52h-18.56zM36.88 97.51h18.56v5.52h-18.56zM-0.05 102.93h49.33v5.52h-49.33zM55.34 102.93h6.25v5.52h-6.25zM73.8 102.93h12.41v5.52h-12.41z"/>
<path fill="#80ff80" d="M79.95 -0.05h6.25v5.52h-6.25zM86.11 27.05h6.25v5.52h-6.25zM55.34 43.31h6.25v5.52h-6.25zM135.34 64.99h6.25v5.52h-6.25zM12.26 70.41h6.25v5.52h-6.25zM-0.05 75.83h6.25v5.52h-6.25zM135.34 75.83h6.25v5.52h-6.25zM61.49 86.67h6.25v5.52h-6.25zM61.49 92.09h6.25v5.52h-6.25z"/>
<path fill="#b3ff4c" d="M86.11 16.21h6.25v5.52h-6.25zM61.49 37.89h6.25v5.52h-6.25zM6.1 75.83h6.25v5.52h-6.25zM141.5 75.83h6.25v5.52h-6.25zM12.26 81.25h6.25v5.52h-6.25z"/>
<path fill="#e5ff1a" d="M67.65 32.47h6.25v5.52h-6.25zM43.03 43.31h12.41v5.52h-12.41zM43.03 54.15h6.25v5.52h-6.25zM6.1 70.41h6.25v5.52h-6.25zM18.41 81.25h6.25v5.52h-6.25z"/>
<path fill="#ffe500" d="M73.8 -0.05h6.25v5.52h-6.25zM79.95 10.79h6.25v5.52h-6.25zM86.11 21.63h6.25v5.52h-6.25zM61.49 32.47h6.25v5.52h-6.25zM73.8 32.47h6.25v5.52h-6.25zM55.34 37.89h6.25v5.52h-6.25zM12.26 48.73h6.25v5.52h-6.25zM30.72 48.73h6.25v5.52h-6.25zM49.18 48.73h6.25v5.52h-6.25zM-0.05 64.99h6.25v5.52h-6.25zM141.5 64.99h6.25v5.52h-6.25zM12.26 75.83h6.25v5.52h-6.25zM6.1 86.67h6.25v5.52h-6.25z"/>
<path fill="#ffb300" d="M6.1 -0.05h6.25v5.52h-6.25zM55.34 32.47h6.25v5.52h-6.25zM135.34 70.41h6.25v5.52h-6.25z"/>
<path fill="#ff8000" d="M24.57 16.21h6.25v5.52h-6.25zM79.95 16.21h6.25v5.52h-6.25zM24.57 21.63h6.25v5.52h-6.25zM49.18 37.89h6.25v5.52h-6.25zM24.57 48.73h6.25v5.52h-6.25z"/>
<path fill="#ff4c00" d="M43.03 -0.05h12.41v5.52h-12.41zM67.65 -0.05h6.25v5.52h-6.25zM43.03 5.37h12.41v5.52h-12.41zM73.8 5.37h6.25v5.52h-6.25zM30.72 16.21h6.25v5.52h-6.25zM18.41 21.63h6.25v5.52h-6.25zM6.1 27.05h6.25v5.52h-6.25zM24.57 27.05h6.25v5.52h-6.25zM61.49 27.05h6.25v5.52h-6.25zM79.95 27.05h6.25v5.52h-6.25zM24.57 32.47h6.25v5.52h-6.25zM18.41 37.89h12.41v5.52h-12.41zM24.57 43.31h6.25v5.52h-6.25zM36.88 43.31h6.25v5.52h-6.25z"/>
<path fill="#ff1a00" d="M12.26 -0.05h18.56v5.52h-18.56zM36.88 -0.05h6.25v5.52h-6.25zM55.34 -0.05h6.25v5.52h-6.25zM36.88 5.37h6.25v5.52h-6.25zM55.34 5.37h12.41v5.52h-12.41zM43.03 10.79h18.56v5.52h-18.56zM73.8 10.79h6.25v5.52h-6.25zM18.41 16.21h6.25v5.52h-6.25zM36.88 16.21h6.25v5.52h-6.25zM-0.05 21.63h6.25v5.52h-6.25zM12.26 21.63h6.25v5.52h-6.25zM79.95 21.63h6.25v5.52h-6.25zM-0.05 27.05h6.25v5.52h-6.25zM12.26 27.05h12.41v5.52h-12.41zM6.1 32.47h6.25v5.52h-6.25zM18.41 32.47h6.25v5.52h-6.25zM-0.05 37.89h18.56v5.52h-18.56zM30.72 37.89h6.25v5.52h-6.25zM6.1 43.31h18.56v5.52h-18.56zM30.72 43.31h6.25v5.52h-6.25zM141.5 70.41h6.25v5.52h-6.25z"/>
<path fill="#e50000" d="M-0.05 -0.05h6.25v5.52h-6.25zM30.72 -0.05h6.25v5.52h-6.25zM61.49 -0.05h6.25v5.52h-6.25zM12.26 5.37h24.72v5.52h-24.72zM67.65 5.37h6.25v5.52h-6.25zM12.26 10.79h30.87v5.52h-30.87zM61.49 10.79h12.41v5.52h-12.41zM-0.05 16.21h18.56v5.52h-18.56zM61.49 16.21h18.56v5.52h-18.56zM6.1 21.63h6.25v5.52h-6.25zM30.72 21.63h6.25v5.52h-6.25zM67.65 21.63h6.25v5.52h-6.25zM30.72 27.05h6.25v5.52h-6.25zM67.65 27.05h6.25v5.52h-6.25zM-0.05 32.47h6.25v5.52h-6.25zM12.26 32.47h6.25v5.52h-6.25zM30.72 32.47h6.25v5.52h-6.25zM49.18 32.47h6.25v5.52h-6.25zM43.03 37.89h6.25v5.52h-6.25zM-0.05 43.31h6.25v5.52h-6.25z"/>
<path fill="#c70000" d="M-0.05 5.37h12.41v5.52h-12.41zM-0.05 10.79h12.41v5.52h-12.41zM43.03 16.21h18.56v5.52h-18.56zM36.88 21.63h12.41v5.52h-12.41zM55.34 21.63h12.41v5.52h-12.41zM73.8 21.63h6.25v5.52h-6.25zM36.88 27.05h6.25v5.52h-6.25zM49.18 27.05h12.41v5.52h-12.41zM73.8 27.05h6.25v5.52h-6.25zM36.88 32.47h12.41v5.52h-12.41zM36.88 37.89h6.25v5.52h-6.25zM18.41 48.73h6.25v5.52h-6.25z"/>
<path fill="#800000" d="M49.18 21.63h6.25v5.52h-6.25zM43.03 27.05h6.25v5.52h-6.25z"/>
</g></g>
<path d="M67.7 32.52L55.39 32.52L55.39 37.94L49.23 37.94L49.23 43.36L43.08 43.36L43.08 48.78M110.77 32.52L129.24 32.52L129.24 37.94L147 37.94M129.24 37.94L129.24 48.78L123.08 48.78M129.24 43.36L135.39 43.36L135.39 48.78L147 48.78M92.31 43.36L92.31 54.2L98.47 54.2L98.47 59.62L110.77 59.62L110.77 54.2L116.93 54.2L116.93 75.88M116.93 70.46L129.24 70.46M55.39 75.88L86.16 75.88L86.16 81.3L104.62 81.3L104.62 75.88L116.93 75.88" fill="none" stroke="#000" stroke-width="1.15" stroke-dasharray="3.9 1.6"/>
<path d="M18.46 70.46L24.62 70.46L24.62 65.04L43.08 65.04M36.92 65.04L36.92 75.88L30.77 75.88L30.77 81.3L24.62 81.3M12.31 86.72L12.31 107.7M55.39 86.72L49.23 86.72L49.23 92.14L43.08 92.14L43.08 97.56L36.92 97.56L36.92 107.7" fill="none" stroke="#000" stroke-width="0.9"/>
<path d="M0.7 48.78L12.31 48.78L12.31 54.2L36.92 54.2L36.92 37.94L30.77 37.94L30.77 21.68L43.08 21.68L43.08 16.26L80 16.26L80 5.42L86.16 5.42L86.16 0.7M73.85 16.26L73.85 27.1L67.7 27.1L67.7 32.52L73.85 32.52L73.85 37.94L80 37.94L80 43.36L110.77 43.36M98.47 0.7L98.47 5.42L104.62 5.42L104.62 10.84L110.77 10.84L110.77 48.78L123.08 48.78L123.08 54.2L129.24 54.2L129.24 59.62L135.39 59.62L135.39 70.46L129.24 70.46L129.24 75.88L135.39 75.88L135.39 86.72L147 86.72M36.92 48.78L43.08 48.78L43.08 59.62L49.23 59.62L49.23 70.46L55.39 70.46L55.39 107.7M0.7 70.46L18.46 70.46L18.46 75.88L24.62 75.88L24.62 81.3L18.46 81.3L18.46 86.72L0.7 86.72" fill="none" stroke="#000" stroke-width="2.4" stroke-linejoin="miter" stroke-linecap="butt"/>
<rect x="1.15" y="1.15" width="145.4" height="106.1" fill="none" stroke="#000" stroke-width="2.3"/>
<rect x="150.3" y="0" width="6.6" height="108.4" fill="url(#jet)" stroke="#000" stroke-opacity="0.55" stroke-width="0.5"/>
<text x="163.2" y="8.4" font-size="11.6" fill="#262626">1.00</text>
<text x="163.2" y="33.4" font-size="11.6" fill="#262626">0.75</text>
<text x="163.2" y="58.4" font-size="11.6" fill="#262626">0.50</text>
<text x="163.2" y="83.4" font-size="11.6" fill="#262626">0.25</text>
<text x="163.2" y="108.4" font-size="11.6" fill="#262626">0.00</text>
<text x="82.45" y="-9" font-size="16" fill="#262626" text-anchor="middle">pOutMovesToSL</text>
<text x="-21.63" y="-13.4" font-size="16.3" letter-spacing="0.5" font-weight="bold" fill="#1a1a1a">(g)</text>
</g>
<g transform="translate(250,345.1)">
<g clip-path="url(#cp)"><g filter="url(#bl)" shape-rendering="crispEdges"><rect x="-1" y="-1" width="149.7" height="110.4" fill="#000"/>
<path fill="#001aff" d="M18.41 59.57h6.25v5.52h-6.25zM36.88 64.99h6.25v5.52h-6.25zM36.88 102.93h6.25v5.52h-6.25zM135.34 102.93h6.25v5.52h-6.25z"/>
<path fill="#004dff" d="M-0.05 92.09h6.25v5.52h-6.25z"/>
<path fill="#0080ff" d="M30.72 59.57h6.25v5.52h-6.25zM12.26 64.99h6.25v5.52h-6.25zM36.88 75.83h6.25v5.52h-6.25zM30.72 81.25h6.25v5.52h-6.25z"/>
<path fill="#00b2ff" d="M36.88 70.41h6.25v5.52h-6.25zM24.57 81.25h6.25v5.52h-6.25z"/>
<path fill="#00e5ff" d="M24.57 59.57h6.25v5.52h-6.25zM141.5 102.93h6.25v5.52h-6.25z"/>
<path fill="#80ff80" d="M18.41 64.99h6.25v5.52h-6.25zM30.72 64.99h6.25v5.52h-6.25z"/>
<path fill="#e5ff1a" d="M30.72 75.83h6.25v5.52h-6.25z"/>
<path fill="#ffe500" d="M18.41 75.83h6.25v5.52h-6.25z"/>
<path fill="#ffb300" d="M24.57 64.99h6.25v5.52h-6.25z"/>
<path fill="#ff8000" d="M18.41 70.41h6.25v5.52h-6.25z"/>
<path fill="#ff4c00" d="M30.72 70.41h6.25v5.52h-6.25z"/>
<path fill="#ff1a00" d="M24.57 75.83h6.25v5.52h-6.25z"/>
<path fill="#969698" d="M24.57 70.41h6.25v5.52h-6.25z"/>
<path fill="#000092" d="M-0.05 -0.05h147.8v5.52h-147.8zM-0.05 5.37h147.8v5.52h-147.8zM-0.05 10.79h147.8v5.52h-147.8zM-0.05 16.21h147.8v5.52h-147.8zM-0.05 21.63h147.8v5.52h-147.8zM-0.05 27.05h147.8v5.52h-147.8zM-0.05 32.47h147.8v5.52h-147.8zM-0.05 37.89h147.8v5.52h-147.8zM-0.05 43.31h147.8v5.52h-147.8zM-0.05 48.73h147.8v5.52h-147.8zM-0.05 54.15h147.8v5.52h-147.8zM-0.05 59.57h18.56v5.52h-18.56zM36.88 59.57h110.87v5.52h-110.87zM-0.05 64.99h12.41v5.52h-12.41zM43.03 64.99h104.72v5.52h-104.72zM-0.05 70.41h18.56v5.52h-18.56zM43.03 70.41h104.72v5.52h-104.72zM-0.05 75.83h18.56v5.52h-18.56zM43.03 75.83h104.72v5.52h-104.72zM-0.05 81.25h24.72v5.52h-24.72zM36.88 81.25h110.87v5.52h-110.87zM-0.05 86.67h147.8v5.52h-147.8zM6.1 92.09h141.65v5.52h-141.65zM-0.05 97.51h147.8v5.52h-147.8zM-0.05 102.93h37.02v5.52h-37.02zM43.03 102.93h92.41v5.52h-92.41z"/>
</g></g>
<path d="M67.7 32.52L55.39 32.52L55.39 37.94L49.23 37.94L49.23 43.36L43.08 43.36L43.08 48.78M110.77 32.52L129.24 32.52L129.24 37.94L147 37.94M129.24 37.94L129.24 48.78L123.08 48.78M129.24 43.36L135.39 43.36L135.39 48.78L147 48.78M92.31 43.36L92.31 54.2L98.47 54.2L98.47 59.62L110.77 59.62L110.77 54.2L116.93 54.2L116.93 75.88M116.93 70.46L129.24 70.46M55.39 75.88L86.16 75.88L86.16 81.3L104.62 81.3L104.62 75.88L116.93 75.88" fill="none" stroke="#000" stroke-width="1.15" stroke-dasharray="3.9 1.6"/>
<path d="M18.46 70.46L24.62 70.46L24.62 65.04L43.08 65.04M36.92 65.04L36.92 75.88L30.77 75.88L30.77 81.3L24.62 81.3M12.31 86.72L12.31 107.7M55.39 86.72L49.23 86.72L49.23 92.14L43.08 92.14L43.08 97.56L36.92 97.56L36.92 107.7" fill="none" stroke="#000" stroke-width="0.9"/>
<path d="M0.7 48.78L12.31 48.78L12.31 54.2L36.92 54.2L36.92 37.94L30.77 37.94L30.77 21.68L43.08 21.68L43.08 16.26L80 16.26L80 5.42L86.16 5.42L86.16 0.7M73.85 16.26L73.85 27.1L67.7 27.1L67.7 32.52L73.85 32.52L73.85 37.94L80 37.94L80 43.36L110.77 43.36M98.47 0.7L98.47 5.42L104.62 5.42L104.62 10.84L110.77 10.84L110.77 48.78L123.08 48.78L123.08 54.2L129.24 54.2L129.24 59.62L135.39 59.62L135.39 70.46L129.24 70.46L129.24 75.88L135.39 75.88L135.39 86.72L147 86.72M36.92 48.78L43.08 48.78L43.08 59.62L49.23 59.62L49.23 70.46L55.39 70.46L55.39 107.7M0.7 70.46L18.46 70.46L18.46 75.88L24.62 75.88L24.62 81.3L18.46 81.3L18.46 86.72L0.7 86.72" fill="none" stroke="#000" stroke-width="2.4" stroke-linejoin="miter" stroke-linecap="butt"/>
<rect x="1.15" y="1.15" width="145.4" height="106.1" fill="none" stroke="#000" stroke-width="2.3"/>
<rect x="150.3" y="0" width="6.6" height="108.4" fill="url(#jet)" stroke="#000" stroke-opacity="0.55" stroke-width="0.5"/>
<text x="163.2" y="8.4" font-size="11.6" fill="#262626">1.00</text>
<text x="163.2" y="33.4" font-size="11.6" fill="#262626">0.75</text>
<text x="163.2" y="58.4" font-size="11.6" fill="#262626">0.50</text>
<text x="163.2" y="83.4" font-size="11.6" fill="#262626">0.25</text>
<text x="163.2" y="108.4" font-size="11.6" fill="#262626">0.00</text>
<text x="82.45" y="-9" font-size="16" fill="#262626" text-anchor="middle">pOutMovesToBirthHerd</text>
<text x="-22.6" y="-13.4" font-size="16.3" letter-spacing="0.5" font-weight="bold" fill="#1a1a1a">(h)</text>
</g>
<g transform="translate(476.9,345.1)">
<g clip-path="url(#cp)"><g filter="url(#bl)" shape-rendering="crispEdges"><rect x="-1" y="-1" width="149.7" height="110.4" fill="#000"/>
<path fill="#0000d6" d="M98.42 32.47h6.25v5.52h-6.25zM129.19 43.31h6.25v5.52h-6.25zM55.34 48.73h6.25v5.52h-6.25zM55.34 59.57h6.25v5.52h-6.25z"/>
<path fill="#001aff" d="M123.03 27.05h6.25v5.52h-6.25zM129.19 32.47h6.25v5.52h-6.25zM110.72 48.73h6.25v5.52h-6.25zM55.34 54.15h6.25v5.52h-6.25zM49.18 59.57h6.25v5.52h-6.25zM135.34 92.09h6.25v5.52h-6.25zM135.34 97.51h6.25v5.52h-6.25z"/>
<path fill="#004dff" d="M104.57 27.05h6.25v5.52h-6.25zM43.03 48.73h12.41v5.52h-12.41z"/>
<path fill="#0080ff" d="M141.5 97.51h6.25v5.52h-6.25z"/>
<path fill="#00b2ff" d="M110.72 27.05h12.41v5.52h-12.41zM129.19 37.89h6.25v5.52h-6.25zM104.57 43.31h6.25v5.52h-6.25zM116.88 48.73h6.25v5.52h-6.25z"/>
<path fill="#00e5ff" d="M141.5 92.09h6.25v5.52h-6.25z"/>
<path fill="#1affe5" d="M104.57 32.47h6.25v5.52h-6.25zM43.03 54.15h6.25v5.52h-6.25z"/>
<path fill="#80ff80" d="M123.03 32.47h6.25v5.52h-6.25zM49.18 54.15h6.25v5.52h-6.25z"/>
<path fill="#b3ff4c" d="M123.03 43.31h6.25v5.52h-6.25z"/>
<path fill="#ffb300" d="M110.72 32.47h6.25v5.52h-6.25zM104.57 37.89h6.25v5.52h-6.25zM123.03 37.89h6.25v5.52h-6.25z"/>
<path fill="#ff8000" d="M116.88 32.47h6.25v5.52h-6.25zM110.72 43.31h12.41v5.52h-12.41z"/>
<path fill="#c70000" d="M110.72 37.89h12.41v5.52h-12.41z"/>
<path fill="#000092" d="M-0.05 -0.05h147.8v5.52h-147.8zM-0.05 5.37h147.8v5.52h-147.8zM-0.05 10.79h147.8v5.52h-147.8zM-0.05 16.21h147.8v5.52h-147.8zM-0.05 21.63h147.8v5.52h-147.8zM-0.05 27.05h104.72v5.52h-104.72zM129.19 27.05h18.56v5.52h-18.56zM-0.05 32.47h98.57v5.52h-98.57zM135.34 32.47h12.41v5.52h-12.41zM-0.05 37.89h104.72v5.52h-104.72zM135.34 37.89h12.41v5.52h-12.41zM-0.05 43.31h104.72v5.52h-104.72zM135.34 43.31h12.41v5.52h-12.41zM-0.05 48.73h43.18v5.52h-43.18zM61.49 48.73h49.33v5.52h-49.33zM123.03 48.73h24.72v5.52h-24.72zM-0.05 54.15h43.18v5.52h-43.18zM61.49 54.15h86.26v5.52h-86.26zM-0.05 59.57h49.33v5.52h-49.33zM61.49 59.57h86.26v5.52h-86.26zM-0.05 64.99h147.8v5.52h-147.8zM-0.05 70.41h147.8v5.52h-147.8zM-0.05 75.83h147.8v5.52h-147.8zM-0.05 81.25h147.8v5.52h-147.8zM-0.05 86.67h147.8v5.52h-147.8zM-0.05 92.09h135.49v5.52h-135.49zM-0.05 97.51h135.49v5.52h-135.49zM-0.05 102.93h147.8v5.52h-147.8z"/>
</g></g>
<path d="M67.7 32.52L55.39 32.52L55.39 37.94L49.23 37.94L49.23 43.36L43.08 43.36L43.08 48.78M110.77 32.52L129.24 32.52L129.24 37.94L147 37.94M129.24 37.94L129.24 48.78L123.08 48.78M129.24 43.36L135.39 43.36L135.39 48.78L147 48.78M92.31 43.36L92.31 54.2L98.47 54.2L98.47 59.62L110.77 59.62L110.77 54.2L116.93 54.2L116.93 75.88M116.93 70.46L129.24 70.46M55.39 75.88L86.16 75.88L86.16 81.3L104.62 81.3L104.62 75.88L116.93 75.88" fill="none" stroke="#000" stroke-width="1.15" stroke-dasharray="3.9 1.6"/>
<path d="M18.46 70.46L24.62 70.46L24.62 65.04L43.08 65.04M36.92 65.04L36.92 75.88L30.77 75.88L30.77 81.3L24.62 81.3M12.31 86.72L12.31 107.7M55.39 86.72L49.23 86.72L49.23 92.14L43.08 92.14L43.08 97.56L36.92 97.56L36.92 107.7" fill="none" stroke="#000" stroke-width="0.9"/>
<path d="M0.7 48.78L12.31 48.78L12.31 54.2L36.92 54.2L36.92 37.94L30.77 37.94L30.77 21.68L43.08 21.68L43.08 16.26L80 16.26L80 5.42L86.16 5.42L86.16 0.7M73.85 16.26L73.85 27.1L67.7 27.1L67.7 32.52L73.85 32.52L73.85 37.94L80 37.94L80 43.36L110.77 43.36M98.47 0.7L98.47 5.42L104.62 5.42L104.62 10.84L110.77 10.84L110.77 48.78L123.08 48.78L123.08 54.2L129.24 54.2L129.24 59.62L135.39 59.62L135.39 70.46L129.24 70.46L129.24 75.88L135.39 75.88L135.39 86.72L147 86.72M36.92 48.78L43.08 48.78L43.08 59.62L49.23 59.62L49.23 70.46L55.39 70.46L55.39 107.7M0.7 70.46L18.46 70.46L18.46 75.88L24.62 75.88L24.62 81.3L18.46 81.3L18.46 86.72L0.7 86.72" fill="none" stroke="#000" stroke-width="2.4" stroke-linejoin="miter" stroke-linecap="butt"/>
<rect x="1.15" y="1.15" width="145.4" height="106.1" fill="none" stroke="#000" stroke-width="2.3"/>
<rect x="150.3" y="0" width="6.6" height="108.4" fill="url(#jet)" stroke="#000" stroke-opacity="0.55" stroke-width="0.5"/>
<text x="163.2" y="8.4" font-size="11.6" fill="#262626">1.00</text>
<text x="163.2" y="33.4" font-size="11.6" fill="#262626">0.75</text>
<text x="163.2" y="58.4" font-size="11.6" fill="#262626">0.50</text>
<text x="163.2" y="83.4" font-size="11.6" fill="#262626">0.25</text>
<text x="163.2" y="108.4" font-size="11.6" fill="#262626">0.00</text>
<text x="82.45" y="-9" font-size="16" fill="#262626" text-anchor="middle">pInMovesToBirthHerd</text>
<text x="-22.1" y="-13.4" font-size="16.3" letter-spacing="0.5" font-weight="bold" fill="#1a1a1a">(i)</text>
</g>
</svg></body></html>
